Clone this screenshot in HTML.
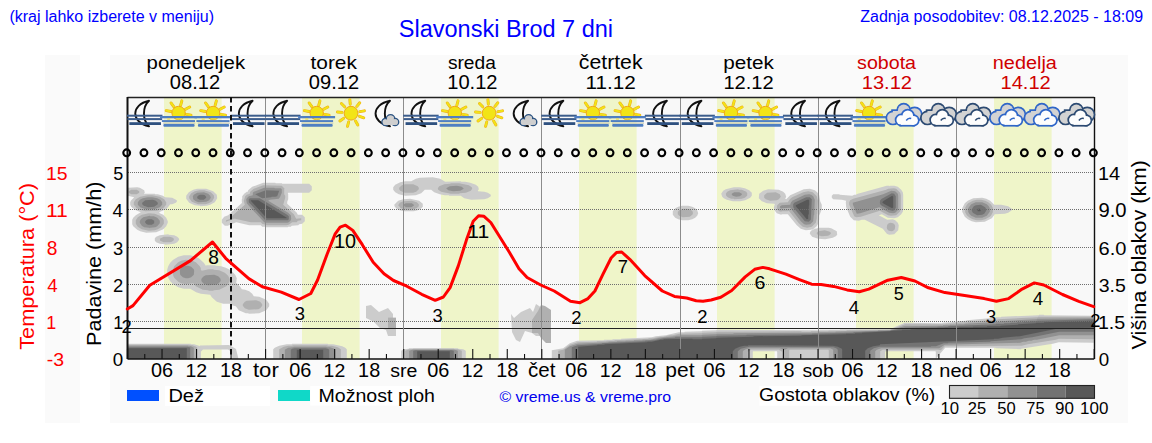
<!DOCTYPE html>
<html><head><meta charset="utf-8"><style>html,body{margin:0;padding:0;background:#fff;width:1152px;height:443px;overflow:hidden;position:relative}</style></head>
<body>
<svg width="1152" height="443" viewBox="0 0 1152 443" style="position:absolute;left:0;top:0;font-family:'Liberation Sans', sans-serif">
<rect x="0" y="0" width="1152" height="443" fill="#fff"/>
<rect x="45" y="55" width="35" height="368" fill="#fafafa"/>
<rect x="110" y="55" width="1018" height="368" fill="#fafafa"/>
<rect x="127.5" y="97" width="966.6999999999998" height="262" fill="#f8f8f8"/>
<rect x="164.00" y="97" width="57.6" height="262" fill="#eff5c9"/>
<rect x="302.00" y="97" width="57.6" height="262" fill="#eff5c9"/>
<rect x="441.00" y="97" width="57.6" height="262" fill="#eff5c9"/>
<rect x="579.00" y="97" width="57.6" height="262" fill="#eff5c9"/>
<rect x="717.00" y="97" width="57.6" height="262" fill="#eff5c9"/>
<rect x="856.00" y="97" width="57.6" height="262" fill="#eff5c9"/>
<rect x="994.00" y="97" width="57.6" height="262" fill="#eff5c9"/>
<path fill="#cccccc" d="M197,359L197,349L200,345.5L229,345L236,349L238.5,359L232.3,359L232,352L228,349.5L203,349.5L200.5,352L200.5,359Z"/>
<path fill="#cccccc" fill-rule="evenodd" d="M401.2,350.8L401.2,358.8L465.8,358.8L465.8,350.8L463.2,349.2L458.2,348.8L457.8,348.2L409.2,348.2L408.8,348.8L403.8,349.2ZM273.2,349.2L273.2,358.8L346.8,358.8L346.8,349.2L345.2,347.8L342.2,346.2L333.2,344.2L328.2,344.2L327.8,343.8L292.2,343.8L291.8,344.2L286.8,344.2L279.2,345.8L274.8,347.8ZM127.8,343.8L127.8,358.8L200.8,358.8L200.8,347.8L198.8,345.8L194.2,344.2L191.2,344.2L190.8,343.8ZM1093.8,315.8L1044.2,315.2L1043.8,314.8L1039.2,314.8L1038.8,315.2L1001.2,316.8L1000.8,317.2L995.8,317.2L995.2,317.8L966.8,320.2L966.2,320.8L957.2,321.2L956.8,321.8L952.2,321.8L951.8,322.2L942.8,322.8L942.2,323.2L904.8,322.8L889.8,329.2L840.2,329.2L839.8,329.8L820.2,329.8L819.8,330.2L716.8,329.8L716.2,330.2L702.2,330.8L701.8,331.2L684.8,331.8L684.2,332.2L678.8,332.2L665.8,335.2L655.8,336.2L651.8,337.2L621.2,338.8L620.8,339.2L612.8,339.2L612.2,339.8L604.2,339.8L603.8,340.2L577.2,340.8L569.8,343.2L563.2,348.2L551.8,350.2L551.8,358.8L752.8,358.8L752.8,351.8L753.2,351.2L776.8,351.2L777.2,351.8L777.2,358.8L885.2,358.8L885.2,351.8L885.8,351.2L935.2,351.2L935.8,351.8L935.8,358.8L945.2,347.8L995.2,347.8L995.8,348.2L1020.8,349.2L1021.2,348.8L1052.8,343.8L1058.8,342.2L1093.8,342.8ZM168.2,266.2L167.2,269.8L167.2,274.2L168.2,277.8L170.2,281.2L173.2,284.2L178.2,287.2L183.8,288.8L190.2,288.8L196.2,292.2L200.8,293.8L210.2,294.8L211.8,297.2L216.8,301.8L223.2,303.8L229.8,303.8L231.8,305.2L235.8,306.2L238.8,310.2L245.8,313.2L248.2,313.2L248.8,313.8L259.2,313.2L266.2,310.2L269.2,306.2L269.2,303.8L266.2,299.8L259.2,296.8L253.8,296.2L252.2,293.8L249.2,291.2L245.2,289.8L241.8,289.2L240.2,286.8L236.2,282.8L236.8,278.2L235.2,274.8L230.8,270.2L225.8,267.8L221.2,266.2L215.8,265.8L215.2,265.2L206.8,265.2L205.8,265.8L203.8,262.8L198.8,258.2L195.8,256.8L190.2,255.2L183.8,255.2L178.2,256.8L173.2,259.8L170.2,262.8ZM154.8,238.2L154.8,240.8L156.2,242.2L159.8,243.8L164.8,244.2L165.2,244.8L174.2,243.8L177.2,242.2L179.2,239.8L178.8,238.2L177.2,236.8L174.2,235.2L168.8,234.8L168.2,234.2L159.8,235.2L156.2,236.8ZM672.8,211.2L672.8,214.8L675.2,217.8L678.2,219.2L682.2,220.2L688.2,220.2L692.2,219.2L695.2,217.8L697.2,215.8L698.2,213.2L697.2,210.2L695.2,208.2L692.2,206.8L688.2,205.8L682.2,205.8L678.2,206.8L675.2,208.2ZM394.2,204.8L394.8,206.8L396.8,208.8L399.8,210.2L403.8,211.2L413.8,211.2L417.8,210.2L420.8,208.8L422.8,206.8L422.8,203.8L419.2,200.8L410.2,198.8L403.2,199.2L398.2,200.8ZM962.2,208.2L962.2,211.8L964.8,216.8L967.8,219.2L971.8,221.2L975.8,222.2L984.8,221.8L991.8,218.2L994.8,214.2L1004.8,213.8L1008.2,212.8L1011.8,210.2L1011.8,208.8L1008.2,206.2L1001.2,204.8L994.2,204.8L990.2,200.8L986.2,198.8L982.2,197.8L973.2,198.2L967.8,200.8L964.8,203.2ZM759.2,193.8L758.8,198.2L761.8,201.2L766.8,203.2L774.2,203.8L774.8,204.2L773.8,207.2L774.2,209.8L776.8,213.2L781.2,214.8L781.8,214.2L787.8,214.2L796.8,225.2L800.8,228.8L805.8,230.2L811.2,229.8L811.8,230.2L810.2,231.8L809.8,233.8L812.2,236.8L818.2,238.8L825.2,239.2L832.8,237.8L835.8,236.2L837.2,234.8L836.8,231.2L831.2,228.2L828.8,227.8L818.8,227.8L815.8,228.8L814.2,228.2L816.2,226.8L818.2,223.8L819.2,219.8L819.2,215.8L821.8,209.2L821.8,204.8L820.2,201.2L819.2,195.2L817.2,192.2L814.8,190.2L809.8,188.8L803.8,189.2L790.2,195.2L786.2,199.2L785.2,198.8L786.2,196.8L785.2,193.8L783.2,191.8L778.8,189.8L768.2,189.2L763.2,190.8ZM811.2,229.8L811.8,229.2L812.8,229.8L812.2,230.2ZM812.8,229.2L813.2,228.8L813.8,229.2L813.2,229.8ZM813.8,228.8L814.2,228.2L814.8,228.8L814.2,229.2ZM186.2,195.8L186.2,198.8L189.2,202.8L194.8,205.2L199.8,205.8L200.2,206.2L206.8,205.8L210.2,204.8L214.8,202.2L217.2,198.2L216.8,194.8L213.2,191.2L206.2,188.8L197.2,188.8L193.2,189.8L188.8,192.2ZM721.2,193.8L722.2,196.8L723.8,198.2L726.8,199.8L732.8,201.2L740.2,201.2L745.2,200.2L750.2,197.8L751.8,195.8L751.8,192.8L749.2,190.2L744.8,188.2L739.8,187.2L733.8,187.2L725.8,189.2L723.2,190.8ZM128.2,187.8L127.8,188.2L127.8,195.8L134.2,197.2L130.8,200.8L130.2,202.2L130.2,204.8L131.2,206.8L134.8,209.8L140.8,212.2L135.8,215.2L133.2,217.8L132.2,219.8L132.2,224.2L133.2,226.2L137.2,229.8L140.2,231.2L146.2,232.8L156.2,232.2L163.2,229.2L166.2,226.2L167.8,222.8L167.8,221.2L166.2,217.8L163.2,214.8L159.8,213.2L159.2,212.2L166.8,208.8L170.2,204.2L172.2,204.2L175.8,202.8L176.8,201.8L176.8,200.2L172.2,197.8L165.2,197.2L162.8,195.8L157.8,194.2L155.2,194.2L154.8,193.8L145.2,193.8L144.8,194.2L144.2,193.8L144.8,192.8L144.2,190.2L139.8,187.8L137.2,187.2ZM898.2,230.2L898.8,225.2L897.8,222.8L895.2,220.2L892.8,219.2L887.2,219.8L878.8,215.2L881.8,214.2L887.8,217.8L894.2,218.2L897.8,217.2L901.2,214.2L902.8,211.8L903.2,209.2L903.2,194.8L902.8,192.2L901.2,189.8L897.8,186.8L894.2,185.8L890.2,185.8L889.8,186.2L889.2,185.8L886.8,185.8L857.8,193.8L855.8,194.8L854.2,194.8L852.2,195.8L839.8,194.8L839.2,194.2L833.2,194.2L831.8,195.8L831.8,197.8L833.2,199.2L841.8,199.8L846.2,200.8L845.8,202.2L846.2,207.2L850.2,216.8L853.8,220.2L858.8,220.8L861.8,219.8L864.8,219.8L882.8,228.8L886.8,233.8L889.2,234.8L894.2,234.2ZM311.8,186.2L309.2,183.8L282.2,183.8L281.8,183.2L275.8,183.2L275.2,182.8L263.2,182.8L252.2,186.8L248.2,190.2L247.8,191.8L246.8,191.8L244.2,193.8L242.2,196.2L242.2,198.8L241.8,199.2L241.8,202.2L242.2,202.8L228.2,215.2L224.2,216.8L221.8,219.8L221.8,222.8L224.8,225.8L227.8,225.8L236.2,222.2L249.2,225.2L260.8,225.2L262.2,226.8L264.8,226.8L265.2,227.2L287.8,227.2L288.2,226.8L290.8,226.8L291.8,225.8L298.2,225.2L299.2,224.2L302.2,223.8L304.8,221.2L304.8,217.2L302.2,214.8L297.8,214.8L296.8,212.8L287.2,203.8L287.2,201.8L288.2,199.2L288.2,194.2L287.8,193.2L288.2,192.8L309.2,192.8L311.8,190.2ZM393.2,187.2L393.2,189.8L395.2,192.2L398.8,194.2L405.2,195.8L415.8,195.2L421.2,193.2L424.8,189.8L431.2,189.8L434.2,192.2L439.8,194.2L444.8,195.2L448.8,195.2L449.2,195.8L460.8,195.8L464.2,198.2L471.2,199.8L484.2,199.2L487.8,198.2L490.8,196.2L490.8,194.8L487.8,192.8L484.2,191.8L478.2,191.2L477.8,190.8L478.8,189.2L478.2,186.8L475.8,184.8L470.2,182.8L465.2,181.8L461.2,181.8L460.8,181.2L445.2,181.8L440.2,178.8L432.8,177.2L419.8,177.8L415.8,178.8L411.2,181.2L405.2,181.2L400.2,182.2L395.2,184.8Z"/>
<path fill="#b0b0b0" fill-rule="evenodd" d="M405.2,350.8L405.2,358.8L461.8,358.8L461.8,350.8L457.8,349.2L454.2,349.2L453.8,348.8L413.2,348.8L412.8,349.2L409.2,349.2ZM279.2,349.2L279.2,358.8L340.8,358.8L340.8,349.2L337.8,347.2L331.8,345.8L327.8,345.8L327.2,345.2L292.8,345.2L292.2,345.8L288.2,345.8L283.8,346.8ZM127.8,344.8L127.8,358.8L197.2,358.8L197.2,347.8L196.2,346.8L192.2,345.2L189.8,345.2L189.2,344.8ZM1093.8,316.8L1038.2,316.8L1037.8,317.2L997.8,319.2L997.2,319.8L968.8,321.8L968.2,322.2L957.2,322.8L956.8,323.2L945.8,323.8L945.2,324.2L905.2,324.2L889.8,329.8L846.8,330.2L846.2,330.8L828.8,330.8L828.2,331.2L811.2,331.2L810.8,331.8L801.8,331.8L801.2,331.2L716.8,331.8L716.2,332.2L702.2,332.8L701.8,333.2L679.2,333.8L672.8,335.2L669.8,335.2L663.2,336.8L660.2,336.8L652.8,338.2L648.8,338.2L648.2,338.8L614.8,340.2L614.2,340.8L606.8,340.8L606.2,341.2L597.2,341.2L596.8,341.8L577.8,342.2L569.8,344.8L563.2,349.8L558.2,350.8L558.2,358.8L747.8,358.8L747.8,351.8L751.2,349.8L778.8,349.8L782.2,351.8L782.2,358.8L789.2,358.8L789.2,350.2L789.8,349.8L828.2,349.8L828.8,350.2L828.8,358.8L880.2,358.8L880.2,351.2L882.8,349.8L938.2,349.8L940.8,350.2L944.8,346.2L1021.8,345.8L1027.8,344.2L1055.8,339.8L1058.8,338.8L1093.8,339.2ZM242.8,304.2L242.8,305.8L244.8,308.2L248.8,309.8L258.2,309.2L260.2,308.2L262.2,305.8L262.2,304.2L260.2,301.8L256.2,300.2L246.8,300.8L244.8,301.8ZM172.8,270.2L173.2,275.8L174.2,277.8L178.2,281.8L181.2,283.2L185.8,284.2L193.2,283.2L195.8,286.2L202.8,289.8L208.2,290.2L208.8,290.8L213.2,290.8L213.8,290.2L219.2,289.8L226.2,286.2L228.2,284.2L229.8,280.8L229.8,279.2L228.2,275.8L224.8,272.8L219.2,270.2L213.8,269.8L213.2,269.2L208.8,269.2L201.8,270.8L200.8,269.8L200.8,268.2L199.8,266.2L195.8,262.2L191.2,260.2L185.8,259.8L181.2,260.8L178.2,262.2L174.2,266.2ZM159.8,238.8L160.2,240.8L163.8,242.2L169.8,242.2L171.8,241.8L173.8,240.2L173.8,238.8L172.8,237.8L169.8,236.8L163.8,236.8ZM816.8,232.8L816.8,233.8L818.2,235.2L821.8,236.2L827.8,235.8L829.2,235.2L830.8,233.8L830.8,232.8L829.8,231.8L824.8,230.2L818.2,231.2ZM890.2,222.8L888.8,223.2L887.2,224.8L886.8,227.8L887.2,229.2L888.8,230.8L891.8,231.2L893.2,230.8L894.8,229.2L895.2,226.2L894.8,224.8L893.2,223.2ZM135.8,220.2L135.8,223.8L137.8,226.8L141.8,229.2L148.8,230.8L154.8,230.2L157.8,229.2L161.2,227.2L163.8,223.8L163.8,220.2L162.8,218.2L159.8,215.8L154.8,213.8L148.8,213.2L141.8,214.8L137.8,217.2ZM677.8,211.8L677.8,214.2L679.2,215.8L682.8,217.2L689.8,216.8L692.8,214.2L692.8,211.8L690.8,209.8L687.8,208.8L682.8,208.8L679.2,210.2ZM398.2,205.2L400.8,208.2L406.2,209.8L413.8,209.2L417.2,207.8L418.8,206.2L418.8,204.2L416.8,202.2L411.8,200.8L403.2,201.2L399.8,202.8ZM965.2,207.8L965.2,212.2L966.8,215.2L969.8,217.8L972.8,219.2L976.8,220.2L981.2,220.2L985.2,219.2L989.8,216.8L991.2,215.2L992.8,212.2L992.8,207.8L991.2,204.8L988.2,202.2L985.2,200.8L981.2,199.8L976.8,199.8L972.8,200.8L968.2,203.2L966.8,204.8ZM133.8,202.2L133.8,204.8L136.8,208.2L139.8,209.8L145.2,211.2L157.2,210.8L163.2,208.2L166.2,204.8L166.2,202.2L164.2,199.2L159.8,196.8L152.2,195.2L147.8,195.2L140.2,196.8L135.8,199.2ZM764.2,195.2L764.2,197.8L765.8,199.2L770.2,200.8L776.8,200.2L778.8,199.2L780.8,196.8L779.8,194.2L775.8,192.2L767.2,192.8ZM777.2,205.2L776.8,207.2L777.2,209.2L779.2,211.2L781.2,211.8L781.8,211.2L788.2,211.2L788.8,210.8L798.8,223.2L802.8,226.8L807.2,227.8L811.8,226.8L815.8,222.8L816.8,218.2L816.8,214.2L817.2,213.8L817.8,200.8L816.8,196.2L812.8,192.2L808.2,191.2L803.2,192.2L792.2,197.2L789.8,199.2L787.8,202.2L779.8,202.8ZM189.2,196.2L189.2,198.2L191.8,201.8L198.2,204.2L205.2,204.2L208.8,203.2L212.2,201.2L214.2,197.8L213.8,195.2L210.8,192.2L204.2,190.2L199.2,190.2L194.8,191.2L191.2,193.2ZM128.8,191.2L128.8,192.8L131.2,194.2L136.8,194.2L139.2,192.8L139.2,191.2L136.8,189.8L131.2,189.8ZM725.8,193.8L726.2,195.8L727.8,197.2L731.2,198.8L733.8,198.8L734.2,199.2L741.8,198.8L744.8,197.8L747.2,195.8L747.2,193.2L746.2,191.8L741.8,189.8L738.8,189.8L738.2,189.2L730.2,190.2L727.2,191.8ZM900.2,192.8L896.2,188.8L893.8,188.2L888.2,188.8L886.2,189.8L853.2,198.8L850.2,200.2L849.2,202.2L849.2,204.8L854.2,216.2L856.2,217.2L860.8,216.8L879.8,210.8L888.2,215.2L890.8,215.8L896.2,215.2L900.2,211.2L900.8,208.8L900.8,195.2ZM307.2,188.2L284.2,188.2L281.8,185.8L263.2,185.2L253.8,188.8L250.2,191.8L249.8,193.8L246.8,194.8L245.2,196.2L243.8,200.8L244.8,204.8L231.2,216.8L230.8,218.8L226.2,220.2L225.8,221.8L233.8,218.8L235.2,218.8L250.8,222.2L260.8,222.2L262.2,223.8L266.8,225.2L286.2,225.2L288.8,224.8L292.2,222.2L296.8,222.2L297.8,220.8L301.2,220.2L301.2,218.2L296.2,218.8L293.8,214.2L283.2,204.8L285.2,197.8L285.2,195.8L284.2,194.2L284.2,188.8L284.8,188.2ZM399.2,187.8L399.2,189.2L400.2,190.8L404.8,192.8L413.2,192.8L416.2,191.8L418.8,189.2L418.8,187.8L417.8,186.2L413.2,184.2L404.8,184.2L401.8,185.2ZM437.8,188.2L438.2,189.8L441.2,191.8L450.8,193.8L459.2,193.8L459.8,193.2L465.8,192.8L470.8,190.8L472.2,188.8L471.8,187.2L468.8,185.2L459.2,183.2L450.8,183.2L450.2,183.8L444.2,184.2L439.2,186.2Z"/>
<path fill="#919191" fill-rule="evenodd" d="M409.2,350.8L409.2,358.8L457.8,358.8L457.8,350.8L454.8,349.8L412.2,349.8ZM284.8,349.8L284.8,358.8L335.2,358.8L335.2,349.8L333.2,348.2L329.8,347.2L326.8,347.2L326.2,346.8L293.8,346.8L293.2,347.2L288.2,347.8ZM127.8,345.8L127.8,358.8L193.8,358.8L193.8,347.8L190.8,346.2L188.2,346.2L187.8,345.8ZM1093.8,318.2L1037.2,318.8L1036.8,319.2L1000.8,321.2L1000.2,321.8L964.8,323.8L964.2,324.2L957.8,324.2L957.2,324.8L950.2,324.8L949.8,325.2L943.2,325.2L942.8,325.8L904.2,326.2L889.8,330.2L878.2,330.2L877.8,330.8L835.8,331.8L835.2,332.2L819.8,332.2L819.2,332.8L733.8,333.2L733.2,333.8L716.8,333.8L716.2,334.2L702.2,334.8L701.8,335.2L680.2,335.2L679.8,335.8L675.8,335.8L675.2,336.2L660.2,337.8L650.2,339.8L642.8,339.8L642.2,340.2L634.2,340.2L633.8,340.8L625.8,340.8L625.2,341.2L617.2,341.2L616.8,341.8L608.8,341.8L608.2,342.2L577.8,343.8L569.8,346.2L564.8,349.8L564.8,358.8L742.8,358.8L742.8,351.8L743.2,350.8L745.8,349.2L750.2,348.2L779.8,348.2L784.8,349.8L787.8,348.2L830.2,348.2L833.2,349.8L833.2,358.8L875.2,358.8L875.2,351.2L876.8,349.8L881.2,348.2L939.2,348.2L944.8,344.8L1020.2,342.8L1023.2,341.8L1025.8,341.8L1028.8,340.8L1031.2,340.8L1034.2,339.8L1036.8,339.8L1059.2,335.2L1093.8,335.2ZM201.2,279.8L201.8,281.8L203.8,283.8L207.8,285.2L216.2,284.8L218.2,283.8L220.2,281.8L220.8,280.2L220.2,278.2L218.2,276.2L214.2,274.8L205.8,275.2L203.8,276.2L201.8,278.2ZM182.8,266.8L180.2,269.2L179.8,270.8L180.2,274.8L182.8,277.2L185.8,278.2L188.2,278.2L191.2,277.2L193.8,274.8L194.2,270.8L193.8,269.2L191.2,266.8L188.2,265.8L185.8,265.8ZM139.8,221.2L139.8,222.8L141.8,225.8L144.2,227.2L149.2,227.8L149.8,228.2L150.2,227.8L155.2,227.2L157.2,226.2L159.8,223.2L159.8,220.8L157.2,217.8L153.8,216.2L150.2,216.2L149.8,215.8L143.2,217.2L140.8,219.2ZM403.2,205.2L405.8,207.2L411.2,207.2L413.8,205.8L413.8,204.8L411.8,203.2L405.8,203.2L403.8,204.2ZM968.2,208.2L968.2,211.8L969.2,213.8L971.2,215.8L975.8,217.8L982.2,217.8L986.8,215.8L989.8,211.8L989.8,208.2L988.8,206.2L986.8,204.2L982.2,202.2L975.8,202.2L971.2,204.2ZM137.8,202.2L137.8,204.8L140.2,207.2L145.8,209.2L154.2,209.2L159.8,207.2L162.2,204.8L162.2,202.2L160.2,199.8L157.2,198.2L152.2,197.2L147.8,197.2L142.8,198.2L139.8,199.8ZM780.2,206.2L779.8,207.2L781.2,208.8L781.8,208.2L790.2,207.8L800.8,221.2L804.2,224.2L806.2,224.8L810.2,224.2L813.2,221.2L813.8,215.2L814.2,214.8L814.8,199.8L813.2,196.2L811.2,194.8L809.2,194.2L804.8,194.8L792.2,200.8L790.8,202.8L790.2,204.8L781.8,205.2ZM731.8,193.8L731.8,194.8L732.8,195.8L736.2,196.8L739.8,196.2L741.8,194.8L741.8,193.8L739.2,192.2L734.2,192.2ZM192.8,196.2L193.2,199.2L195.8,201.2L198.8,202.2L206.2,201.8L209.2,200.2L210.8,197.8L210.2,195.8L208.2,193.8L203.8,192.2L197.2,192.8L193.8,194.8ZM897.8,193.8L895.2,191.2L891.2,190.8L883.2,194.2L852.8,202.8L852.8,204.2L856.8,213.8L860.2,213.2L879.2,207.2L889.2,212.8L893.2,213.2L895.2,212.8L897.8,210.2L898.2,208.2L898.2,195.8ZM238.2,215.2L250.2,207.2L264.2,222.2L265.8,222.8L287.2,222.8L288.8,222.2L290.8,220.2L291.2,218.8L290.8,215.2L288.2,212.8L268.2,200.8L269.8,199.8L278.8,198.8L280.2,196.8L281.8,192.8L281.8,189.2L280.8,188.2L274.8,188.2L274.2,187.8L264.2,187.8L253.8,191.8L252.8,192.8L252.8,195.2L248.8,196.2L246.8,198.2L246.2,199.8L246.8,203.2L250.2,207.2ZM446.2,188.2L448.2,190.2L453.2,191.2L460.2,190.8L463.8,188.8L461.8,186.8L456.8,185.8L449.8,186.2Z"/>
<path fill="#737373" fill-rule="evenodd" d="M413.2,350.8L413.2,358.8L453.8,358.8L453.8,350.8L451.2,350.2L415.8,350.2ZM290.8,349.8L290.8,358.8L329.2,358.8L329.2,349.8L327.8,348.8L325.2,348.2L294.8,348.2L292.2,348.8ZM127.8,347.2L127.8,358.8L190.2,358.8L190.2,347.8L189.2,347.2ZM1093.8,319.2L1036.8,320.8L1036.2,321.2L1030.2,321.2L1029.8,321.8L1023.8,321.8L1023.2,322.2L1017.2,322.2L1016.8,322.8L1010.8,322.8L1010.2,323.2L1004.2,323.2L1003.8,323.8L996.2,323.8L995.8,324.2L948.2,326.2L947.8,326.8L937.8,326.8L937.2,327.2L905.2,327.8L890.2,330.8L853.8,332.2L853.2,332.8L812.2,333.8L811.8,334.2L746.8,334.8L746.2,335.2L716.8,335.8L716.2,336.2L702.2,336.8L701.8,337.2L675.2,337.2L674.8,337.8L663.8,338.2L654.2,340.2L645.2,340.8L644.8,341.2L602.2,343.2L601.8,343.8L577.8,345.2L571.8,347.2L571.8,358.8L737.8,358.8L737.8,351.2L740.8,348.8L749.2,346.8L833.2,347.2L836.2,348.2L837.8,349.8L837.8,358.8L870.2,358.8L870.2,350.8L873.8,348.2L879.8,346.8L930.8,346.8L931.2,346.2L935.8,346.2L943.8,343.2L947.8,343.2L948.2,342.8L990.2,341.8L990.8,341.2L1021.2,339.2L1024.2,338.2L1032.2,337.2L1059.2,331.8L1093.8,331.8ZM145.2,221.2L145.2,222.8L146.8,224.2L148.2,224.8L151.8,224.8L154.2,223.2L154.2,220.8L151.8,219.2L148.2,219.2L146.8,219.8ZM971.8,209.2L971.8,210.8L972.8,212.8L977.2,215.2L982.2,214.8L984.2,213.8L986.2,210.8L986.2,209.2L985.2,207.2L980.8,204.8L975.8,205.2L973.8,206.2ZM142.2,202.8L142.2,204.2L143.8,205.8L148.2,207.2L154.2,206.8L157.8,204.2L157.8,202.8L155.8,200.8L152.8,199.8L145.2,200.2ZM248.8,199.2L248.8,202.2L265.2,220.2L287.8,220.2L288.8,219.2L288.8,216.2L287.2,214.8L259.8,198.2L249.8,198.2ZM806.2,197.2L794.2,202.8L793.2,204.2L793.2,207.2L804.8,221.2L808.8,221.8L810.8,219.8L811.8,199.2L809.8,197.2ZM197.2,196.8L197.2,198.2L199.8,199.8L203.8,199.8L206.2,197.8L206.2,196.8L204.8,195.2L203.2,194.8L200.2,194.8L198.8,195.2ZM891.8,193.2L881.8,198.8L880.2,200.2L879.8,202.8L880.2,204.2L881.8,205.8L890.2,210.2L892.8,210.8L894.2,210.2L895.8,207.8L895.8,196.2L894.2,193.8ZM255.2,194.2L262.2,198.2L271.2,197.2L271.8,196.8L275.2,196.8L277.2,196.2L279.2,190.8L265.8,190.2Z"/>
<path fill="#585858" fill-rule="evenodd" d="M417.2,351.2L417.2,358.8L449.8,358.8L449.8,351.2ZM296.8,349.8L296.8,358.8L323.2,358.8L323.2,349.8ZM127.8,348.2L127.8,358.8L186.8,358.8L186.8,348.2ZM1093.8,320.8L1044.2,322.2L1043.8,322.8L1036.2,322.8L1035.8,323.2L1018.2,324.2L1017.8,324.8L1000.8,325.8L1000.2,326.2L987.2,326.2L986.8,326.8L973.2,326.8L972.8,327.2L958.8,327.2L958.2,327.8L944.8,327.8L944.2,328.2L910.8,329.2L910.2,329.8L902.2,329.8L901.8,330.2L890.8,330.8L890.2,331.2L862.2,332.8L861.8,333.2L855.2,333.2L854.8,333.8L846.2,333.8L845.8,334.2L801.8,335.2L801.2,335.8L753.8,336.2L753.2,336.8L716.8,337.8L716.2,338.2L702.2,338.8L701.8,339.2L692.8,339.2L692.2,338.8L663.8,339.2L663.2,339.8L660.8,339.8L651.8,341.8L647.8,341.8L647.2,342.2L604.8,344.2L604.2,344.8L597.8,344.8L597.2,345.2L578.2,346.8L578.2,358.8L732.8,358.8L732.8,351.2L735.2,348.8L739.8,346.8L744.2,345.8L747.8,345.8L748.2,345.2L832.8,345.8L837.8,346.8L841.8,348.8L842.2,349.8L842.2,358.8L865.2,358.8L865.2,350.8L867.8,348.2L873.2,346.2L879.8,345.2L880.2,344.2L993.8,339.2L994.2,338.8L998.2,338.8L1002.8,337.8L1019.8,336.2L1059.2,328.2L1093.8,327.8ZM977.2,209.2L977.8,211.2L980.2,211.2L980.8,210.8L980.2,208.8L977.8,208.8ZM250.8,200.8L266.8,218.2L286.2,218.2L286.8,217.8L258.2,200.2L251.2,200.2ZM808.8,199.8L807.2,199.8L795.8,205.2L795.8,206.2L806.8,219.2L808.2,218.8L808.2,214.8L808.8,214.2L808.8,205.8L809.2,205.2L809.2,200.2ZM892.2,195.8L883.8,200.8L882.2,202.2L883.8,203.8L892.2,208.2L893.2,207.2L893.2,196.8Z"/>
<path fill="#cccccc" d="M366,306L371,305L379,312L388,308L393,314L393,318L396,318L396,336L388,336L386,330L380,328L374,322L366,318Z"/>
<path fill="#b0b0b0" d="M388,317.6L396,317.6L396,328L388,328Z"/>
<path fill="#cccccc" d="M511,314L514,318L521,312L530,308L533,312L536,304L542,308L551,310L551,342L547,340L543,336L536,336L532,333L525,331L520,342L516,340L512,332Z"/>
<path fill="#b0b0b0" d="M532,320L538,311L541,305L545,306L551,310L551,343L546,343L541,338L538,333L532,333Z"/>
<line x1="128" y1="172.5" x2="1094" y2="172.5" stroke="#6e6e6e" stroke-width="1" stroke-dasharray="1,1"/>
<line x1="128" y1="209.5" x2="1094" y2="209.5" stroke="#6e6e6e" stroke-width="1" stroke-dasharray="1,1"/>
<line x1="128" y1="247.5" x2="1094" y2="247.5" stroke="#6e6e6e" stroke-width="1" stroke-dasharray="1,1"/>
<line x1="128" y1="284.5" x2="1094" y2="284.5" stroke="#6e6e6e" stroke-width="1" stroke-dasharray="1,1"/>
<line x1="128" y1="321.5" x2="1094" y2="321.5" stroke="#6e6e6e" stroke-width="1" stroke-dasharray="1,1"/>
<line x1="127.5" y1="328.5" x2="1094.1999999999998" y2="328.5" stroke="#222" stroke-width="1.2"/>
<line x1="265.5" y1="97" x2="265.5" y2="359" stroke="#8c8c8c" stroke-width="1"/>
<line x1="403.5" y1="97" x2="403.5" y2="359" stroke="#8c8c8c" stroke-width="1"/>
<line x1="541.5" y1="97" x2="541.5" y2="359" stroke="#8c8c8c" stroke-width="1"/>
<line x1="680.5" y1="97" x2="680.5" y2="359" stroke="#8c8c8c" stroke-width="1"/>
<line x1="818.5" y1="97" x2="818.5" y2="359" stroke="#8c8c8c" stroke-width="1"/>
<line x1="956.5" y1="97" x2="956.5" y2="359" stroke="#8c8c8c" stroke-width="1"/>
<line x1="127.5" y1="97.5" x2="1094.1999999999998" y2="97.5" stroke="#222" stroke-width="1.4"/>
<line x1="127.5" y1="97" x2="127.5" y2="359" stroke="#111" stroke-width="2"/>
<line x1="1094.5" y1="97" x2="1094.5" y2="359" stroke="#111" stroke-width="1.4"/>
<line x1="127.5" y1="359" x2="1094.1999999999998" y2="359" stroke="#111" stroke-width="1.6"/>
<line x1="127.50" y1="359" x2="127.50" y2="349" stroke="#111" stroke-width="1.1"/>
<line x1="144.76" y1="359" x2="144.76" y2="354" stroke="#111" stroke-width="1.1"/>
<line x1="162.03" y1="359" x2="162.03" y2="349" stroke="#111" stroke-width="1.1"/>
<line x1="179.29" y1="359" x2="179.29" y2="354" stroke="#111" stroke-width="1.1"/>
<line x1="196.55" y1="359" x2="196.55" y2="349" stroke="#111" stroke-width="1.1"/>
<line x1="213.81" y1="359" x2="213.81" y2="354" stroke="#111" stroke-width="1.1"/>
<line x1="231.07" y1="359" x2="231.07" y2="349" stroke="#111" stroke-width="1.1"/>
<line x1="248.34" y1="359" x2="248.34" y2="354" stroke="#111" stroke-width="1.1"/>
<line x1="265.60" y1="359" x2="265.60" y2="349" stroke="#111" stroke-width="1.1"/>
<line x1="282.86" y1="359" x2="282.86" y2="354" stroke="#111" stroke-width="1.1"/>
<line x1="300.12" y1="359" x2="300.12" y2="349" stroke="#111" stroke-width="1.1"/>
<line x1="317.39" y1="359" x2="317.39" y2="354" stroke="#111" stroke-width="1.1"/>
<line x1="334.65" y1="359" x2="334.65" y2="349" stroke="#111" stroke-width="1.1"/>
<line x1="351.91" y1="359" x2="351.91" y2="354" stroke="#111" stroke-width="1.1"/>
<line x1="369.17" y1="359" x2="369.17" y2="349" stroke="#111" stroke-width="1.1"/>
<line x1="386.44" y1="359" x2="386.44" y2="354" stroke="#111" stroke-width="1.1"/>
<line x1="403.70" y1="359" x2="403.70" y2="349" stroke="#111" stroke-width="1.1"/>
<line x1="420.96" y1="359" x2="420.96" y2="354" stroke="#111" stroke-width="1.1"/>
<line x1="438.22" y1="359" x2="438.22" y2="349" stroke="#111" stroke-width="1.1"/>
<line x1="455.49" y1="359" x2="455.49" y2="354" stroke="#111" stroke-width="1.1"/>
<line x1="472.75" y1="359" x2="472.75" y2="349" stroke="#111" stroke-width="1.1"/>
<line x1="490.01" y1="359" x2="490.01" y2="354" stroke="#111" stroke-width="1.1"/>
<line x1="507.27" y1="359" x2="507.27" y2="349" stroke="#111" stroke-width="1.1"/>
<line x1="524.54" y1="359" x2="524.54" y2="354" stroke="#111" stroke-width="1.1"/>
<line x1="541.80" y1="359" x2="541.80" y2="349" stroke="#111" stroke-width="1.1"/>
<line x1="559.06" y1="359" x2="559.06" y2="354" stroke="#111" stroke-width="1.1"/>
<line x1="576.33" y1="359" x2="576.33" y2="349" stroke="#111" stroke-width="1.1"/>
<line x1="593.59" y1="359" x2="593.59" y2="354" stroke="#111" stroke-width="1.1"/>
<line x1="610.85" y1="359" x2="610.85" y2="349" stroke="#111" stroke-width="1.1"/>
<line x1="628.11" y1="359" x2="628.11" y2="354" stroke="#111" stroke-width="1.1"/>
<line x1="645.38" y1="359" x2="645.38" y2="349" stroke="#111" stroke-width="1.1"/>
<line x1="662.64" y1="359" x2="662.64" y2="354" stroke="#111" stroke-width="1.1"/>
<line x1="679.90" y1="359" x2="679.90" y2="349" stroke="#111" stroke-width="1.1"/>
<line x1="697.16" y1="359" x2="697.16" y2="354" stroke="#111" stroke-width="1.1"/>
<line x1="714.42" y1="359" x2="714.42" y2="349" stroke="#111" stroke-width="1.1"/>
<line x1="731.69" y1="359" x2="731.69" y2="354" stroke="#111" stroke-width="1.1"/>
<line x1="748.95" y1="359" x2="748.95" y2="349" stroke="#111" stroke-width="1.1"/>
<line x1="766.21" y1="359" x2="766.21" y2="354" stroke="#111" stroke-width="1.1"/>
<line x1="783.48" y1="359" x2="783.48" y2="349" stroke="#111" stroke-width="1.1"/>
<line x1="800.74" y1="359" x2="800.74" y2="354" stroke="#111" stroke-width="1.1"/>
<line x1="818.00" y1="359" x2="818.00" y2="349" stroke="#111" stroke-width="1.1"/>
<line x1="835.26" y1="359" x2="835.26" y2="354" stroke="#111" stroke-width="1.1"/>
<line x1="852.52" y1="359" x2="852.52" y2="349" stroke="#111" stroke-width="1.1"/>
<line x1="869.79" y1="359" x2="869.79" y2="354" stroke="#111" stroke-width="1.1"/>
<line x1="887.05" y1="359" x2="887.05" y2="349" stroke="#111" stroke-width="1.1"/>
<line x1="904.31" y1="359" x2="904.31" y2="354" stroke="#111" stroke-width="1.1"/>
<line x1="921.57" y1="359" x2="921.57" y2="349" stroke="#111" stroke-width="1.1"/>
<line x1="938.84" y1="359" x2="938.84" y2="354" stroke="#111" stroke-width="1.1"/>
<line x1="956.10" y1="359" x2="956.10" y2="349" stroke="#111" stroke-width="1.1"/>
<line x1="973.36" y1="359" x2="973.36" y2="354" stroke="#111" stroke-width="1.1"/>
<line x1="990.62" y1="359" x2="990.62" y2="349" stroke="#111" stroke-width="1.1"/>
<line x1="1007.89" y1="359" x2="1007.89" y2="354" stroke="#111" stroke-width="1.1"/>
<line x1="1025.15" y1="359" x2="1025.15" y2="349" stroke="#111" stroke-width="1.1"/>
<line x1="1042.41" y1="359" x2="1042.41" y2="354" stroke="#111" stroke-width="1.1"/>
<line x1="1059.67" y1="359" x2="1059.67" y2="349" stroke="#111" stroke-width="1.1"/>
<line x1="1076.94" y1="359" x2="1076.94" y2="354" stroke="#111" stroke-width="1.1"/>
<line x1="1094.20" y1="359" x2="1094.20" y2="349" stroke="#111" stroke-width="1.1"/>
<circle cx="126.70" cy="152.8" r="3.4" fill="none" stroke="#000" stroke-width="2.1"/>
<circle cx="143.96" cy="152.8" r="3.4" fill="none" stroke="#000" stroke-width="2.1"/>
<circle cx="161.22" cy="152.8" r="3.4" fill="none" stroke="#000" stroke-width="2.1"/>
<circle cx="178.49" cy="152.8" r="3.4" fill="none" stroke="#000" stroke-width="2.1"/>
<circle cx="195.75" cy="152.8" r="3.4" fill="none" stroke="#000" stroke-width="2.1"/>
<circle cx="213.01" cy="152.8" r="3.4" fill="none" stroke="#000" stroke-width="2.1"/>
<circle cx="230.27" cy="152.8" r="3.4" fill="none" stroke="#000" stroke-width="2.1"/>
<circle cx="247.54" cy="152.8" r="3.4" fill="none" stroke="#000" stroke-width="2.1"/>
<circle cx="264.80" cy="152.8" r="3.4" fill="none" stroke="#000" stroke-width="2.1"/>
<circle cx="282.06" cy="152.8" r="3.4" fill="none" stroke="#000" stroke-width="2.1"/>
<circle cx="299.32" cy="152.8" r="3.4" fill="none" stroke="#000" stroke-width="2.1"/>
<circle cx="316.59" cy="152.8" r="3.4" fill="none" stroke="#000" stroke-width="2.1"/>
<circle cx="333.85" cy="152.8" r="3.4" fill="none" stroke="#000" stroke-width="2.1"/>
<circle cx="351.11" cy="152.8" r="3.4" fill="none" stroke="#000" stroke-width="2.1"/>
<circle cx="368.37" cy="152.8" r="3.4" fill="none" stroke="#000" stroke-width="2.1"/>
<circle cx="385.64" cy="152.8" r="3.4" fill="none" stroke="#000" stroke-width="2.1"/>
<circle cx="402.90" cy="152.8" r="3.4" fill="none" stroke="#000" stroke-width="2.1"/>
<circle cx="420.16" cy="152.8" r="3.4" fill="none" stroke="#000" stroke-width="2.1"/>
<circle cx="437.42" cy="152.8" r="3.4" fill="none" stroke="#000" stroke-width="2.1"/>
<circle cx="454.69" cy="152.8" r="3.4" fill="none" stroke="#000" stroke-width="2.1"/>
<circle cx="471.95" cy="152.8" r="3.4" fill="none" stroke="#000" stroke-width="2.1"/>
<circle cx="489.21" cy="152.8" r="3.4" fill="none" stroke="#000" stroke-width="2.1"/>
<circle cx="506.47" cy="152.8" r="3.4" fill="none" stroke="#000" stroke-width="2.1"/>
<circle cx="523.74" cy="152.8" r="3.4" fill="none" stroke="#000" stroke-width="2.1"/>
<circle cx="541.00" cy="152.8" r="3.4" fill="none" stroke="#000" stroke-width="2.1"/>
<circle cx="558.26" cy="152.8" r="3.4" fill="none" stroke="#000" stroke-width="2.1"/>
<circle cx="575.53" cy="152.8" r="3.4" fill="none" stroke="#000" stroke-width="2.1"/>
<circle cx="592.79" cy="152.8" r="3.4" fill="none" stroke="#000" stroke-width="2.1"/>
<circle cx="610.05" cy="152.8" r="3.4" fill="none" stroke="#000" stroke-width="2.1"/>
<circle cx="627.31" cy="152.8" r="3.4" fill="none" stroke="#000" stroke-width="2.1"/>
<circle cx="644.58" cy="152.8" r="3.4" fill="none" stroke="#000" stroke-width="2.1"/>
<circle cx="661.84" cy="152.8" r="3.4" fill="none" stroke="#000" stroke-width="2.1"/>
<circle cx="679.10" cy="152.8" r="3.4" fill="none" stroke="#000" stroke-width="2.1"/>
<circle cx="696.36" cy="152.8" r="3.4" fill="none" stroke="#000" stroke-width="2.1"/>
<circle cx="713.62" cy="152.8" r="3.4" fill="none" stroke="#000" stroke-width="2.1"/>
<circle cx="730.89" cy="152.8" r="3.4" fill="none" stroke="#000" stroke-width="2.1"/>
<circle cx="748.15" cy="152.8" r="3.4" fill="none" stroke="#000" stroke-width="2.1"/>
<circle cx="765.41" cy="152.8" r="3.4" fill="none" stroke="#000" stroke-width="2.1"/>
<circle cx="782.68" cy="152.8" r="3.4" fill="none" stroke="#000" stroke-width="2.1"/>
<circle cx="799.94" cy="152.8" r="3.4" fill="none" stroke="#000" stroke-width="2.1"/>
<circle cx="817.20" cy="152.8" r="3.4" fill="none" stroke="#000" stroke-width="2.1"/>
<circle cx="834.46" cy="152.8" r="3.4" fill="none" stroke="#000" stroke-width="2.1"/>
<circle cx="851.73" cy="152.8" r="3.4" fill="none" stroke="#000" stroke-width="2.1"/>
<circle cx="868.99" cy="152.8" r="3.4" fill="none" stroke="#000" stroke-width="2.1"/>
<circle cx="886.25" cy="152.8" r="3.4" fill="none" stroke="#000" stroke-width="2.1"/>
<circle cx="903.51" cy="152.8" r="3.4" fill="none" stroke="#000" stroke-width="2.1"/>
<circle cx="920.77" cy="152.8" r="3.4" fill="none" stroke="#000" stroke-width="2.1"/>
<circle cx="938.04" cy="152.8" r="3.4" fill="none" stroke="#000" stroke-width="2.1"/>
<circle cx="955.30" cy="152.8" r="3.4" fill="none" stroke="#000" stroke-width="2.1"/>
<circle cx="972.56" cy="152.8" r="3.4" fill="none" stroke="#000" stroke-width="2.1"/>
<circle cx="989.83" cy="152.8" r="3.4" fill="none" stroke="#000" stroke-width="2.1"/>
<circle cx="1007.09" cy="152.8" r="3.4" fill="none" stroke="#000" stroke-width="2.1"/>
<circle cx="1024.35" cy="152.8" r="3.4" fill="none" stroke="#000" stroke-width="2.1"/>
<circle cx="1041.61" cy="152.8" r="3.4" fill="none" stroke="#000" stroke-width="2.1"/>
<circle cx="1058.88" cy="152.8" r="3.4" fill="none" stroke="#000" stroke-width="2.1"/>
<circle cx="1076.14" cy="152.8" r="3.4" fill="none" stroke="#000" stroke-width="2.1"/>
<circle cx="1093.40" cy="152.8" r="3.4" fill="none" stroke="#000" stroke-width="2.1"/>
<path d="M149.06,100.8 C130.66,104.80 130.66,122.40 149.06,126.4 C142.26,120.40 142.26,106.80 149.06,100.8Z" fill="#fbfbfb"/>
<path d="M149.06,100.8 C130.66,104.80 130.66,122.40 149.06,126.4 C142.26,120.40 142.26,106.80 149.06,100.8Z" fill="none" stroke="#111" stroke-width="1.9" stroke-linejoin="round"/>
<rect x="126.96" y="114.7" width="35.5" height="2" fill="#3c5d8c"/>
<rect x="127.46" y="118.1" width="34.7" height="2" fill="#3c5d8c"/>
<rect x="129.36" y="122.2" width="31.6" height="2.8" fill="#2f5180"/>
<line x1="170.93" y1="111.51" x2="166.22" y2="110.60" stroke="#f0a818" stroke-width="2.9" stroke-linecap="round"/>
<line x1="173.89" y1="106.77" x2="171.00" y2="102.94" stroke="#f0a818" stroke-width="2.9" stroke-linecap="round"/>
<line x1="180.61" y1="105.47" x2="181.85" y2="100.83" stroke="#f0a818" stroke-width="2.9" stroke-linecap="round"/>
<line x1="185.47" y1="109.34" x2="189.71" y2="107.08" stroke="#f0a818" stroke-width="2.9" stroke-linecap="round"/>
<line x1="186.27" y1="114.35" x2="191.00" y2="115.19" stroke="#f0a818" stroke-width="2.9" stroke-linecap="round"/>
<line x1="170.93" y1="111.51" x2="166.22" y2="110.60" stroke="#f2e416" stroke-width="2.0" stroke-linecap="round"/>
<line x1="173.89" y1="106.77" x2="171.00" y2="102.94" stroke="#f2e416" stroke-width="2.0" stroke-linecap="round"/>
<line x1="180.61" y1="105.47" x2="181.85" y2="100.83" stroke="#f2e416" stroke-width="2.0" stroke-linecap="round"/>
<line x1="185.47" y1="109.34" x2="189.71" y2="107.08" stroke="#f2e416" stroke-width="2.0" stroke-linecap="round"/>
<line x1="186.27" y1="114.35" x2="191.00" y2="115.19" stroke="#f2e416" stroke-width="2.0" stroke-linecap="round"/>
<circle cx="178.59" cy="113" r="6.7" fill="#f2e416" stroke="#f0a818" stroke-width="1"/>
<rect x="159.99" y="116" width="37" height="2.3" fill="#4f7fc2"/>
<rect x="167.19" y="118.4" width="3" height="1.2" fill="#e8d850"/>
<rect x="176.19" y="118.4" width="6" height="1.2" fill="#e8d850"/>
<rect x="161.89" y="120.1" width="33.1" height="1.9" fill="#4f7fc2"/>
<rect x="163.19" y="122.4" width="32" height="1.4" fill="#c8ccb8"/>
<rect x="163.39" y="124" width="31.2" height="2.8" rx="1" fill="#4f7fc2"/>
<line x1="205.46" y1="111.51" x2="200.74" y2="110.60" stroke="#f0a818" stroke-width="2.9" stroke-linecap="round"/>
<line x1="208.42" y1="106.77" x2="205.53" y2="102.94" stroke="#f0a818" stroke-width="2.9" stroke-linecap="round"/>
<line x1="215.13" y1="105.47" x2="216.37" y2="100.83" stroke="#f0a818" stroke-width="2.9" stroke-linecap="round"/>
<line x1="220.00" y1="109.34" x2="224.24" y2="107.08" stroke="#f0a818" stroke-width="2.9" stroke-linecap="round"/>
<line x1="220.79" y1="114.35" x2="225.52" y2="115.19" stroke="#f0a818" stroke-width="2.9" stroke-linecap="round"/>
<line x1="205.46" y1="111.51" x2="200.74" y2="110.60" stroke="#f2e416" stroke-width="2.0" stroke-linecap="round"/>
<line x1="208.42" y1="106.77" x2="205.53" y2="102.94" stroke="#f2e416" stroke-width="2.0" stroke-linecap="round"/>
<line x1="215.13" y1="105.47" x2="216.37" y2="100.83" stroke="#f2e416" stroke-width="2.0" stroke-linecap="round"/>
<line x1="220.00" y1="109.34" x2="224.24" y2="107.08" stroke="#f2e416" stroke-width="2.0" stroke-linecap="round"/>
<line x1="220.79" y1="114.35" x2="225.52" y2="115.19" stroke="#f2e416" stroke-width="2.0" stroke-linecap="round"/>
<circle cx="213.11" cy="113" r="6.7" fill="#f2e416" stroke="#f0a818" stroke-width="1"/>
<rect x="194.51" y="116" width="37" height="2.3" fill="#4f7fc2"/>
<rect x="201.71" y="118.4" width="3" height="1.2" fill="#e8d850"/>
<rect x="210.71" y="118.4" width="6" height="1.2" fill="#e8d850"/>
<rect x="196.41" y="120.1" width="33.1" height="1.9" fill="#4f7fc2"/>
<rect x="197.71" y="122.4" width="32" height="1.4" fill="#c8ccb8"/>
<rect x="197.91" y="124" width="31.2" height="2.8" rx="1" fill="#4f7fc2"/>
<path d="M252.64,100.8 C234.24,104.80 234.24,122.40 252.64,126.4 C245.84,120.40 245.84,106.80 252.64,100.8Z" fill="#fbfbfb"/>
<path d="M252.64,100.8 C234.24,104.80 234.24,122.40 252.64,126.4 C245.84,120.40 245.84,106.80 252.64,100.8Z" fill="none" stroke="#111" stroke-width="1.9" stroke-linejoin="round"/>
<rect x="230.54" y="114.7" width="35.5" height="2" fill="#3c5d8c"/>
<rect x="231.04" y="118.1" width="34.7" height="2" fill="#3c5d8c"/>
<rect x="232.94" y="122.2" width="31.6" height="2.8" fill="#2f5180"/>
<path d="M287.16,100.8 C268.76,104.80 268.76,122.40 287.16,126.4 C280.36,120.40 280.36,106.80 287.16,100.8Z" fill="#fbfbfb"/>
<path d="M287.16,100.8 C268.76,104.80 268.76,122.40 287.16,126.4 C280.36,120.40 280.36,106.80 287.16,100.8Z" fill="none" stroke="#111" stroke-width="1.9" stroke-linejoin="round"/>
<rect x="265.06" y="114.7" width="35.5" height="2" fill="#3c5d8c"/>
<rect x="265.56" y="118.1" width="34.7" height="2" fill="#3c5d8c"/>
<rect x="267.46" y="122.2" width="31.6" height="2.8" fill="#2f5180"/>
<line x1="309.03" y1="111.51" x2="304.32" y2="110.60" stroke="#f0a818" stroke-width="2.9" stroke-linecap="round"/>
<line x1="311.99" y1="106.77" x2="309.10" y2="102.94" stroke="#f0a818" stroke-width="2.9" stroke-linecap="round"/>
<line x1="318.71" y1="105.47" x2="319.95" y2="100.83" stroke="#f0a818" stroke-width="2.9" stroke-linecap="round"/>
<line x1="323.57" y1="109.34" x2="327.81" y2="107.08" stroke="#f0a818" stroke-width="2.9" stroke-linecap="round"/>
<line x1="324.37" y1="114.35" x2="329.10" y2="115.19" stroke="#f0a818" stroke-width="2.9" stroke-linecap="round"/>
<line x1="309.03" y1="111.51" x2="304.32" y2="110.60" stroke="#f2e416" stroke-width="2.0" stroke-linecap="round"/>
<line x1="311.99" y1="106.77" x2="309.10" y2="102.94" stroke="#f2e416" stroke-width="2.0" stroke-linecap="round"/>
<line x1="318.71" y1="105.47" x2="319.95" y2="100.83" stroke="#f2e416" stroke-width="2.0" stroke-linecap="round"/>
<line x1="323.57" y1="109.34" x2="327.81" y2="107.08" stroke="#f2e416" stroke-width="2.0" stroke-linecap="round"/>
<line x1="324.37" y1="114.35" x2="329.10" y2="115.19" stroke="#f2e416" stroke-width="2.0" stroke-linecap="round"/>
<circle cx="316.69" cy="113" r="6.7" fill="#f2e416" stroke="#f0a818" stroke-width="1"/>
<rect x="298.09" y="116" width="37" height="2.3" fill="#4f7fc2"/>
<rect x="305.29" y="118.4" width="3" height="1.2" fill="#e8d850"/>
<rect x="314.29" y="118.4" width="6" height="1.2" fill="#e8d850"/>
<rect x="299.99" y="120.1" width="33.1" height="1.9" fill="#4f7fc2"/>
<rect x="301.29" y="122.4" width="32" height="1.4" fill="#c8ccb8"/>
<rect x="301.49" y="124" width="31.2" height="2.8" rx="1" fill="#4f7fc2"/>
<line x1="359.88" y1="111.64" x2="364.41" y2="110.84" stroke="#f0a818" stroke-width="2.9" stroke-linecap="round"/>
<line x1="356.80" y1="106.31" x2="359.75" y2="102.78" stroke="#f0a818" stroke-width="2.9" stroke-linecap="round"/>
<line x1="350.23" y1="104.23" x2="349.83" y2="99.65" stroke="#f0a818" stroke-width="2.9" stroke-linecap="round"/>
<line x1="344.65" y1="106.84" x2="341.40" y2="103.58" stroke="#f0a818" stroke-width="2.9" stroke-linecap="round"/>
<line x1="342.05" y1="112.42" x2="337.46" y2="112.01" stroke="#f0a818" stroke-width="2.9" stroke-linecap="round"/>
<line x1="343.64" y1="118.36" x2="339.87" y2="121.00" stroke="#f0a818" stroke-width="2.9" stroke-linecap="round"/>
<line x1="348.68" y1="121.89" x2="347.49" y2="126.34" stroke="#f0a818" stroke-width="2.9" stroke-linecap="round"/>
<line x1="355.51" y1="120.99" x2="357.81" y2="124.98" stroke="#f0a818" stroke-width="2.9" stroke-linecap="round"/>
<line x1="359.47" y1="116.28" x2="363.79" y2="117.85" stroke="#f0a818" stroke-width="2.9" stroke-linecap="round"/>
<line x1="359.88" y1="111.64" x2="364.41" y2="110.84" stroke="#f2e416" stroke-width="2.0" stroke-linecap="round"/>
<line x1="356.80" y1="106.31" x2="359.75" y2="102.78" stroke="#f2e416" stroke-width="2.0" stroke-linecap="round"/>
<line x1="350.23" y1="104.23" x2="349.83" y2="99.65" stroke="#f2e416" stroke-width="2.0" stroke-linecap="round"/>
<line x1="344.65" y1="106.84" x2="341.40" y2="103.58" stroke="#f2e416" stroke-width="2.0" stroke-linecap="round"/>
<line x1="342.05" y1="112.42" x2="337.46" y2="112.01" stroke="#f2e416" stroke-width="2.0" stroke-linecap="round"/>
<line x1="343.64" y1="118.36" x2="339.87" y2="121.00" stroke="#f2e416" stroke-width="2.0" stroke-linecap="round"/>
<line x1="348.68" y1="121.89" x2="347.49" y2="126.34" stroke="#f2e416" stroke-width="2.0" stroke-linecap="round"/>
<line x1="355.51" y1="120.99" x2="357.81" y2="124.98" stroke="#f2e416" stroke-width="2.0" stroke-linecap="round"/>
<line x1="359.47" y1="116.28" x2="363.79" y2="117.85" stroke="#f2e416" stroke-width="2.0" stroke-linecap="round"/>
<circle cx="351.01" cy="113.2" r="6.9" fill="#f2e416" stroke="#f0a818" stroke-width="1"/>
<path d="M390.04,100.8 C370.70,104.80 370.70,122.40 390.04,126.4 C383.10,120.40 383.10,106.80 390.04,100.8Z" fill="#fbfbfb" stroke="#111" stroke-width="1.9" stroke-linejoin="round"/>
<circle cx="385.54" cy="122.00" r="3.6" fill="#cfcfcf" stroke="#2e5583" stroke-width="1.5"/>
<circle cx="390.54" cy="119.00" r="4.2" fill="#cfcfcf" stroke="#2e5583" stroke-width="1.5"/>
<circle cx="395.04" cy="122.00" r="3.6" fill="#cfcfcf" stroke="#2e5583" stroke-width="1.5"/>
<circle cx="385.54" cy="122.00" r="2.85" fill="#cfcfcf"/>
<circle cx="390.54" cy="119.00" r="3.45" fill="#cfcfcf"/>
<circle cx="395.04" cy="122.00" r="2.85" fill="#cfcfcf"/>
<rect x="385.04" y="121.50" width="10" height="3.5" fill="#cfcfcf"/>
<path d="M425.26,100.8 C406.86,104.80 406.86,122.40 425.26,126.4 C418.46,120.40 418.46,106.80 425.26,100.8Z" fill="#fbfbfb"/>
<path d="M425.26,100.8 C406.86,104.80 406.86,122.40 425.26,126.4 C418.46,120.40 418.46,106.80 425.26,100.8Z" fill="none" stroke="#111" stroke-width="1.9" stroke-linejoin="round"/>
<rect x="403.16" y="114.7" width="35.5" height="2" fill="#3c5d8c"/>
<rect x="403.66" y="118.1" width="34.7" height="2" fill="#3c5d8c"/>
<rect x="405.56" y="122.2" width="31.6" height="2.8" fill="#2f5180"/>
<line x1="447.13" y1="111.51" x2="442.42" y2="110.60" stroke="#f0a818" stroke-width="2.9" stroke-linecap="round"/>
<line x1="450.09" y1="106.77" x2="447.20" y2="102.94" stroke="#f0a818" stroke-width="2.9" stroke-linecap="round"/>
<line x1="456.81" y1="105.47" x2="458.05" y2="100.83" stroke="#f0a818" stroke-width="2.9" stroke-linecap="round"/>
<line x1="461.67" y1="109.34" x2="465.91" y2="107.08" stroke="#f0a818" stroke-width="2.9" stroke-linecap="round"/>
<line x1="462.47" y1="114.35" x2="467.20" y2="115.19" stroke="#f0a818" stroke-width="2.9" stroke-linecap="round"/>
<line x1="447.13" y1="111.51" x2="442.42" y2="110.60" stroke="#f2e416" stroke-width="2.0" stroke-linecap="round"/>
<line x1="450.09" y1="106.77" x2="447.20" y2="102.94" stroke="#f2e416" stroke-width="2.0" stroke-linecap="round"/>
<line x1="456.81" y1="105.47" x2="458.05" y2="100.83" stroke="#f2e416" stroke-width="2.0" stroke-linecap="round"/>
<line x1="461.67" y1="109.34" x2="465.91" y2="107.08" stroke="#f2e416" stroke-width="2.0" stroke-linecap="round"/>
<line x1="462.47" y1="114.35" x2="467.20" y2="115.19" stroke="#f2e416" stroke-width="2.0" stroke-linecap="round"/>
<circle cx="454.79" cy="113" r="6.7" fill="#f2e416" stroke="#f0a818" stroke-width="1"/>
<rect x="436.19" y="116" width="37" height="2.3" fill="#4f7fc2"/>
<rect x="443.39" y="118.4" width="3" height="1.2" fill="#e8d850"/>
<rect x="452.39" y="118.4" width="6" height="1.2" fill="#e8d850"/>
<rect x="438.09" y="120.1" width="33.1" height="1.9" fill="#4f7fc2"/>
<rect x="439.39" y="122.4" width="32" height="1.4" fill="#c8ccb8"/>
<rect x="439.59" y="124" width="31.2" height="2.8" rx="1" fill="#4f7fc2"/>
<line x1="497.98" y1="111.64" x2="502.51" y2="110.84" stroke="#f0a818" stroke-width="2.9" stroke-linecap="round"/>
<line x1="494.90" y1="106.31" x2="497.85" y2="102.78" stroke="#f0a818" stroke-width="2.9" stroke-linecap="round"/>
<line x1="488.33" y1="104.23" x2="487.93" y2="99.65" stroke="#f0a818" stroke-width="2.9" stroke-linecap="round"/>
<line x1="482.75" y1="106.84" x2="479.50" y2="103.58" stroke="#f0a818" stroke-width="2.9" stroke-linecap="round"/>
<line x1="480.15" y1="112.42" x2="475.56" y2="112.01" stroke="#f0a818" stroke-width="2.9" stroke-linecap="round"/>
<line x1="481.74" y1="118.36" x2="477.97" y2="121.00" stroke="#f0a818" stroke-width="2.9" stroke-linecap="round"/>
<line x1="486.78" y1="121.89" x2="485.59" y2="126.34" stroke="#f0a818" stroke-width="2.9" stroke-linecap="round"/>
<line x1="493.61" y1="120.99" x2="495.91" y2="124.98" stroke="#f0a818" stroke-width="2.9" stroke-linecap="round"/>
<line x1="497.57" y1="116.28" x2="501.89" y2="117.85" stroke="#f0a818" stroke-width="2.9" stroke-linecap="round"/>
<line x1="497.98" y1="111.64" x2="502.51" y2="110.84" stroke="#f2e416" stroke-width="2.0" stroke-linecap="round"/>
<line x1="494.90" y1="106.31" x2="497.85" y2="102.78" stroke="#f2e416" stroke-width="2.0" stroke-linecap="round"/>
<line x1="488.33" y1="104.23" x2="487.93" y2="99.65" stroke="#f2e416" stroke-width="2.0" stroke-linecap="round"/>
<line x1="482.75" y1="106.84" x2="479.50" y2="103.58" stroke="#f2e416" stroke-width="2.0" stroke-linecap="round"/>
<line x1="480.15" y1="112.42" x2="475.56" y2="112.01" stroke="#f2e416" stroke-width="2.0" stroke-linecap="round"/>
<line x1="481.74" y1="118.36" x2="477.97" y2="121.00" stroke="#f2e416" stroke-width="2.0" stroke-linecap="round"/>
<line x1="486.78" y1="121.89" x2="485.59" y2="126.34" stroke="#f2e416" stroke-width="2.0" stroke-linecap="round"/>
<line x1="493.61" y1="120.99" x2="495.91" y2="124.98" stroke="#f2e416" stroke-width="2.0" stroke-linecap="round"/>
<line x1="497.57" y1="116.28" x2="501.89" y2="117.85" stroke="#f2e416" stroke-width="2.0" stroke-linecap="round"/>
<circle cx="489.11" cy="113.2" r="6.9" fill="#f2e416" stroke="#f0a818" stroke-width="1"/>
<path d="M528.14,100.8 C508.80,104.80 508.80,122.40 528.14,126.4 C521.20,120.40 521.20,106.80 528.14,100.8Z" fill="#fbfbfb" stroke="#111" stroke-width="1.9" stroke-linejoin="round"/>
<circle cx="523.64" cy="122.00" r="3.6" fill="#cfcfcf" stroke="#2e5583" stroke-width="1.5"/>
<circle cx="528.64" cy="119.00" r="4.2" fill="#cfcfcf" stroke="#2e5583" stroke-width="1.5"/>
<circle cx="533.14" cy="122.00" r="3.6" fill="#cfcfcf" stroke="#2e5583" stroke-width="1.5"/>
<circle cx="523.64" cy="122.00" r="2.85" fill="#cfcfcf"/>
<circle cx="528.64" cy="119.00" r="3.45" fill="#cfcfcf"/>
<circle cx="533.14" cy="122.00" r="2.85" fill="#cfcfcf"/>
<rect x="523.14" y="121.50" width="10" height="3.5" fill="#cfcfcf"/>
<path d="M563.36,100.8 C544.96,104.80 544.96,122.40 563.36,126.4 C556.56,120.40 556.56,106.80 563.36,100.8Z" fill="#fbfbfb"/>
<path d="M563.36,100.8 C544.96,104.80 544.96,122.40 563.36,126.4 C556.56,120.40 556.56,106.80 563.36,100.8Z" fill="none" stroke="#111" stroke-width="1.9" stroke-linejoin="round"/>
<rect x="541.26" y="114.7" width="35.5" height="2" fill="#3c5d8c"/>
<rect x="541.76" y="118.1" width="34.7" height="2" fill="#3c5d8c"/>
<rect x="543.66" y="122.2" width="31.6" height="2.8" fill="#2f5180"/>
<line x1="585.23" y1="111.51" x2="580.52" y2="110.60" stroke="#f0a818" stroke-width="2.9" stroke-linecap="round"/>
<line x1="588.19" y1="106.77" x2="585.30" y2="102.94" stroke="#f0a818" stroke-width="2.9" stroke-linecap="round"/>
<line x1="594.91" y1="105.47" x2="596.15" y2="100.83" stroke="#f0a818" stroke-width="2.9" stroke-linecap="round"/>
<line x1="599.77" y1="109.34" x2="604.01" y2="107.08" stroke="#f0a818" stroke-width="2.9" stroke-linecap="round"/>
<line x1="600.57" y1="114.35" x2="605.30" y2="115.19" stroke="#f0a818" stroke-width="2.9" stroke-linecap="round"/>
<line x1="585.23" y1="111.51" x2="580.52" y2="110.60" stroke="#f2e416" stroke-width="2.0" stroke-linecap="round"/>
<line x1="588.19" y1="106.77" x2="585.30" y2="102.94" stroke="#f2e416" stroke-width="2.0" stroke-linecap="round"/>
<line x1="594.91" y1="105.47" x2="596.15" y2="100.83" stroke="#f2e416" stroke-width="2.0" stroke-linecap="round"/>
<line x1="599.77" y1="109.34" x2="604.01" y2="107.08" stroke="#f2e416" stroke-width="2.0" stroke-linecap="round"/>
<line x1="600.57" y1="114.35" x2="605.30" y2="115.19" stroke="#f2e416" stroke-width="2.0" stroke-linecap="round"/>
<circle cx="592.89" cy="113" r="6.7" fill="#f2e416" stroke="#f0a818" stroke-width="1"/>
<rect x="574.29" y="116" width="37" height="2.3" fill="#4f7fc2"/>
<rect x="581.49" y="118.4" width="3" height="1.2" fill="#e8d850"/>
<rect x="590.49" y="118.4" width="6" height="1.2" fill="#e8d850"/>
<rect x="576.19" y="120.1" width="33.1" height="1.9" fill="#4f7fc2"/>
<rect x="577.49" y="122.4" width="32" height="1.4" fill="#c8ccb8"/>
<rect x="577.69" y="124" width="31.2" height="2.8" rx="1" fill="#4f7fc2"/>
<line x1="619.76" y1="111.51" x2="615.04" y2="110.60" stroke="#f0a818" stroke-width="2.9" stroke-linecap="round"/>
<line x1="622.72" y1="106.77" x2="619.83" y2="102.94" stroke="#f0a818" stroke-width="2.9" stroke-linecap="round"/>
<line x1="629.43" y1="105.47" x2="630.67" y2="100.83" stroke="#f0a818" stroke-width="2.9" stroke-linecap="round"/>
<line x1="634.30" y1="109.34" x2="638.54" y2="107.08" stroke="#f0a818" stroke-width="2.9" stroke-linecap="round"/>
<line x1="635.09" y1="114.35" x2="639.82" y2="115.19" stroke="#f0a818" stroke-width="2.9" stroke-linecap="round"/>
<line x1="619.76" y1="111.51" x2="615.04" y2="110.60" stroke="#f2e416" stroke-width="2.0" stroke-linecap="round"/>
<line x1="622.72" y1="106.77" x2="619.83" y2="102.94" stroke="#f2e416" stroke-width="2.0" stroke-linecap="round"/>
<line x1="629.43" y1="105.47" x2="630.67" y2="100.83" stroke="#f2e416" stroke-width="2.0" stroke-linecap="round"/>
<line x1="634.30" y1="109.34" x2="638.54" y2="107.08" stroke="#f2e416" stroke-width="2.0" stroke-linecap="round"/>
<line x1="635.09" y1="114.35" x2="639.82" y2="115.19" stroke="#f2e416" stroke-width="2.0" stroke-linecap="round"/>
<circle cx="627.41" cy="113" r="6.7" fill="#f2e416" stroke="#f0a818" stroke-width="1"/>
<rect x="608.81" y="116" width="37" height="2.3" fill="#4f7fc2"/>
<rect x="616.01" y="118.4" width="3" height="1.2" fill="#e8d850"/>
<rect x="625.01" y="118.4" width="6" height="1.2" fill="#e8d850"/>
<rect x="610.71" y="120.1" width="33.1" height="1.9" fill="#4f7fc2"/>
<rect x="612.01" y="122.4" width="32" height="1.4" fill="#c8ccb8"/>
<rect x="612.21" y="124" width="31.2" height="2.8" rx="1" fill="#4f7fc2"/>
<path d="M666.94,100.8 C648.54,104.80 648.54,122.40 666.94,126.4 C660.14,120.40 660.14,106.80 666.94,100.8Z" fill="#fbfbfb"/>
<path d="M666.94,100.8 C648.54,104.80 648.54,122.40 666.94,126.4 C660.14,120.40 660.14,106.80 666.94,100.8Z" fill="none" stroke="#111" stroke-width="1.9" stroke-linejoin="round"/>
<rect x="644.84" y="114.7" width="35.5" height="2" fill="#3c5d8c"/>
<rect x="645.34" y="118.1" width="34.7" height="2" fill="#3c5d8c"/>
<rect x="647.24" y="122.2" width="31.6" height="2.8" fill="#2f5180"/>
<path d="M701.46,100.8 C683.06,104.80 683.06,122.40 701.46,126.4 C694.66,120.40 694.66,106.80 701.46,100.8Z" fill="#fbfbfb"/>
<path d="M701.46,100.8 C683.06,104.80 683.06,122.40 701.46,126.4 C694.66,120.40 694.66,106.80 701.46,100.8Z" fill="none" stroke="#111" stroke-width="1.9" stroke-linejoin="round"/>
<rect x="679.36" y="114.7" width="35.5" height="2" fill="#3c5d8c"/>
<rect x="679.86" y="118.1" width="34.7" height="2" fill="#3c5d8c"/>
<rect x="681.76" y="122.2" width="31.6" height="2.8" fill="#2f5180"/>
<line x1="723.33" y1="111.51" x2="718.62" y2="110.60" stroke="#f0a818" stroke-width="2.9" stroke-linecap="round"/>
<line x1="726.29" y1="106.77" x2="723.40" y2="102.94" stroke="#f0a818" stroke-width="2.9" stroke-linecap="round"/>
<line x1="733.01" y1="105.47" x2="734.25" y2="100.83" stroke="#f0a818" stroke-width="2.9" stroke-linecap="round"/>
<line x1="737.87" y1="109.34" x2="742.11" y2="107.08" stroke="#f0a818" stroke-width="2.9" stroke-linecap="round"/>
<line x1="738.67" y1="114.35" x2="743.40" y2="115.19" stroke="#f0a818" stroke-width="2.9" stroke-linecap="round"/>
<line x1="723.33" y1="111.51" x2="718.62" y2="110.60" stroke="#f2e416" stroke-width="2.0" stroke-linecap="round"/>
<line x1="726.29" y1="106.77" x2="723.40" y2="102.94" stroke="#f2e416" stroke-width="2.0" stroke-linecap="round"/>
<line x1="733.01" y1="105.47" x2="734.25" y2="100.83" stroke="#f2e416" stroke-width="2.0" stroke-linecap="round"/>
<line x1="737.87" y1="109.34" x2="742.11" y2="107.08" stroke="#f2e416" stroke-width="2.0" stroke-linecap="round"/>
<line x1="738.67" y1="114.35" x2="743.40" y2="115.19" stroke="#f2e416" stroke-width="2.0" stroke-linecap="round"/>
<circle cx="730.99" cy="113" r="6.7" fill="#f2e416" stroke="#f0a818" stroke-width="1"/>
<rect x="712.39" y="116" width="37" height="2.3" fill="#4f7fc2"/>
<rect x="719.59" y="118.4" width="3" height="1.2" fill="#e8d850"/>
<rect x="728.59" y="118.4" width="6" height="1.2" fill="#e8d850"/>
<rect x="714.29" y="120.1" width="33.1" height="1.9" fill="#4f7fc2"/>
<rect x="715.59" y="122.4" width="32" height="1.4" fill="#c8ccb8"/>
<rect x="715.79" y="124" width="31.2" height="2.8" rx="1" fill="#4f7fc2"/>
<line x1="757.86" y1="111.51" x2="753.14" y2="110.60" stroke="#f0a818" stroke-width="2.9" stroke-linecap="round"/>
<line x1="760.82" y1="106.77" x2="757.93" y2="102.94" stroke="#f0a818" stroke-width="2.9" stroke-linecap="round"/>
<line x1="767.53" y1="105.47" x2="768.77" y2="100.83" stroke="#f0a818" stroke-width="2.9" stroke-linecap="round"/>
<line x1="772.40" y1="109.34" x2="776.64" y2="107.08" stroke="#f0a818" stroke-width="2.9" stroke-linecap="round"/>
<line x1="773.19" y1="114.35" x2="777.92" y2="115.19" stroke="#f0a818" stroke-width="2.9" stroke-linecap="round"/>
<line x1="757.86" y1="111.51" x2="753.14" y2="110.60" stroke="#f2e416" stroke-width="2.0" stroke-linecap="round"/>
<line x1="760.82" y1="106.77" x2="757.93" y2="102.94" stroke="#f2e416" stroke-width="2.0" stroke-linecap="round"/>
<line x1="767.53" y1="105.47" x2="768.77" y2="100.83" stroke="#f2e416" stroke-width="2.0" stroke-linecap="round"/>
<line x1="772.40" y1="109.34" x2="776.64" y2="107.08" stroke="#f2e416" stroke-width="2.0" stroke-linecap="round"/>
<line x1="773.19" y1="114.35" x2="777.92" y2="115.19" stroke="#f2e416" stroke-width="2.0" stroke-linecap="round"/>
<circle cx="765.51" cy="113" r="6.7" fill="#f2e416" stroke="#f0a818" stroke-width="1"/>
<rect x="746.91" y="116" width="37" height="2.3" fill="#4f7fc2"/>
<rect x="754.11" y="118.4" width="3" height="1.2" fill="#e8d850"/>
<rect x="763.11" y="118.4" width="6" height="1.2" fill="#e8d850"/>
<rect x="748.81" y="120.1" width="33.1" height="1.9" fill="#4f7fc2"/>
<rect x="750.11" y="122.4" width="32" height="1.4" fill="#c8ccb8"/>
<rect x="750.31" y="124" width="31.2" height="2.8" rx="1" fill="#4f7fc2"/>
<path d="M805.04,100.8 C786.64,104.80 786.64,122.40 805.04,126.4 C798.24,120.40 798.24,106.80 805.04,100.8Z" fill="#fbfbfb"/>
<path d="M805.04,100.8 C786.64,104.80 786.64,122.40 805.04,126.4 C798.24,120.40 798.24,106.80 805.04,100.8Z" fill="none" stroke="#111" stroke-width="1.9" stroke-linejoin="round"/>
<rect x="782.94" y="114.7" width="35.5" height="2" fill="#3c5d8c"/>
<rect x="783.44" y="118.1" width="34.7" height="2" fill="#3c5d8c"/>
<rect x="785.34" y="122.2" width="31.6" height="2.8" fill="#2f5180"/>
<path d="M839.56,100.8 C821.16,104.80 821.16,122.40 839.56,126.4 C832.76,120.40 832.76,106.80 839.56,100.8Z" fill="#fbfbfb"/>
<path d="M839.56,100.8 C821.16,104.80 821.16,122.40 839.56,126.4 C832.76,120.40 832.76,106.80 839.56,100.8Z" fill="none" stroke="#111" stroke-width="1.9" stroke-linejoin="round"/>
<rect x="817.46" y="114.7" width="35.5" height="2" fill="#3c5d8c"/>
<rect x="817.96" y="118.1" width="34.7" height="2" fill="#3c5d8c"/>
<rect x="819.86" y="122.2" width="31.6" height="2.8" fill="#2f5180"/>
<line x1="861.43" y1="111.51" x2="856.72" y2="110.60" stroke="#f0a818" stroke-width="2.9" stroke-linecap="round"/>
<line x1="864.39" y1="106.77" x2="861.50" y2="102.94" stroke="#f0a818" stroke-width="2.9" stroke-linecap="round"/>
<line x1="871.11" y1="105.47" x2="872.35" y2="100.83" stroke="#f0a818" stroke-width="2.9" stroke-linecap="round"/>
<line x1="875.97" y1="109.34" x2="880.21" y2="107.08" stroke="#f0a818" stroke-width="2.9" stroke-linecap="round"/>
<line x1="876.77" y1="114.35" x2="881.50" y2="115.19" stroke="#f0a818" stroke-width="2.9" stroke-linecap="round"/>
<line x1="861.43" y1="111.51" x2="856.72" y2="110.60" stroke="#f2e416" stroke-width="2.0" stroke-linecap="round"/>
<line x1="864.39" y1="106.77" x2="861.50" y2="102.94" stroke="#f2e416" stroke-width="2.0" stroke-linecap="round"/>
<line x1="871.11" y1="105.47" x2="872.35" y2="100.83" stroke="#f2e416" stroke-width="2.0" stroke-linecap="round"/>
<line x1="875.97" y1="109.34" x2="880.21" y2="107.08" stroke="#f2e416" stroke-width="2.0" stroke-linecap="round"/>
<line x1="876.77" y1="114.35" x2="881.50" y2="115.19" stroke="#f2e416" stroke-width="2.0" stroke-linecap="round"/>
<circle cx="869.09" cy="113" r="6.7" fill="#f2e416" stroke="#f0a818" stroke-width="1"/>
<rect x="850.49" y="116" width="37" height="2.3" fill="#4f7fc2"/>
<rect x="857.69" y="118.4" width="3" height="1.2" fill="#e8d850"/>
<rect x="866.69" y="118.4" width="6" height="1.2" fill="#e8d850"/>
<rect x="852.39" y="120.1" width="33.1" height="1.9" fill="#4f7fc2"/>
<rect x="853.69" y="122.4" width="32" height="1.4" fill="#c8ccb8"/>
<rect x="853.89" y="124" width="31.2" height="2.8" rx="1" fill="#4f7fc2"/>
<circle cx="892.91" cy="117.90" r="5.75" fill="#2f66c8" stroke="#2f66c8" stroke-width="3.4"/><circle cx="903.71" cy="110.20" r="5.75" fill="#2f66c8" stroke="#2f66c8" stroke-width="3.4"/><circle cx="914.61" cy="114.60" r="6.40" fill="#2f66c8" stroke="#2f66c8" stroke-width="3.4"/><rect x="892.91" y="111" width="21.70" height="10.00" fill="#2f66c8" stroke="#2f66c8" stroke-width="3.4"/><circle cx="892.91" cy="117.90" r="5.75" fill="#d3d3d3" /><circle cx="903.71" cy="110.20" r="5.75" fill="#d3d3d3" /><circle cx="914.61" cy="114.60" r="6.40" fill="#d3d3d3" /><rect x="892.91" y="111" width="21.70" height="10.00" fill="#d3d3d3" /><circle cx="901.01" cy="119.90" r="4.60" fill="#2f66c8" stroke="#2f66c8" stroke-width="3.4"/><circle cx="907.81" cy="115.80" r="5.30" fill="#2f66c8" stroke="#2f66c8" stroke-width="3.4"/><circle cx="913.41" cy="120.40" r="4.50" fill="#2f66c8" stroke="#2f66c8" stroke-width="3.4"/><rect x="901.01" y="116" width="12.40" height="8.90" fill="#2f66c8" stroke="#2f66c8" stroke-width="3.4"/><circle cx="901.01" cy="119.90" r="4.60" fill="#fdfdfd" /><circle cx="907.81" cy="115.80" r="5.30" fill="#fdfdfd" /><circle cx="913.41" cy="120.40" r="4.50" fill="#fdfdfd" /><rect x="901.01" y="116" width="12.40" height="8.90" fill="#fdfdfd" /><path d="M906.21,120.5 Q908.21,117.5 911.21,118.5" fill="none" stroke="#2f66c8" stroke-width="1.4"/>
<circle cx="927.44" cy="117.90" r="5.75" fill="#2c4a72" stroke="#2c4a72" stroke-width="3.4"/><circle cx="938.24" cy="110.20" r="5.75" fill="#2c4a72" stroke="#2c4a72" stroke-width="3.4"/><circle cx="949.14" cy="114.60" r="6.40" fill="#2c4a72" stroke="#2c4a72" stroke-width="3.4"/><rect x="927.44" y="111" width="21.70" height="10.00" fill="#2c4a72" stroke="#2c4a72" stroke-width="3.4"/><circle cx="927.44" cy="117.90" r="5.75" fill="#d3d3d3" /><circle cx="938.24" cy="110.20" r="5.75" fill="#d3d3d3" /><circle cx="949.14" cy="114.60" r="6.40" fill="#d3d3d3" /><rect x="927.44" y="111" width="21.70" height="10.00" fill="#d3d3d3" /><circle cx="935.54" cy="119.90" r="4.60" fill="#2c4a72" stroke="#2c4a72" stroke-width="3.4"/><circle cx="942.34" cy="115.80" r="5.30" fill="#2c4a72" stroke="#2c4a72" stroke-width="3.4"/><circle cx="947.94" cy="120.40" r="4.50" fill="#2c4a72" stroke="#2c4a72" stroke-width="3.4"/><rect x="935.54" y="116" width="12.40" height="8.90" fill="#2c4a72" stroke="#2c4a72" stroke-width="3.4"/><circle cx="935.54" cy="119.90" r="4.60" fill="#fdfdfd" /><circle cx="942.34" cy="115.80" r="5.30" fill="#fdfdfd" /><circle cx="947.94" cy="120.40" r="4.50" fill="#fdfdfd" /><rect x="935.54" y="116" width="12.40" height="8.90" fill="#fdfdfd" /><path d="M940.74,120.5 Q942.74,117.5 945.74,118.5" fill="none" stroke="#2c4a72" stroke-width="1.4"/>
<circle cx="961.96" cy="117.90" r="5.75" fill="#2c4a72" stroke="#2c4a72" stroke-width="3.4"/><circle cx="972.76" cy="110.20" r="5.75" fill="#2c4a72" stroke="#2c4a72" stroke-width="3.4"/><circle cx="983.66" cy="114.60" r="6.40" fill="#2c4a72" stroke="#2c4a72" stroke-width="3.4"/><rect x="961.96" y="111" width="21.70" height="10.00" fill="#2c4a72" stroke="#2c4a72" stroke-width="3.4"/><circle cx="961.96" cy="117.90" r="5.75" fill="#d3d3d3" /><circle cx="972.76" cy="110.20" r="5.75" fill="#d3d3d3" /><circle cx="983.66" cy="114.60" r="6.40" fill="#d3d3d3" /><rect x="961.96" y="111" width="21.70" height="10.00" fill="#d3d3d3" /><circle cx="970.06" cy="119.90" r="4.60" fill="#2c4a72" stroke="#2c4a72" stroke-width="3.4"/><circle cx="976.86" cy="115.80" r="5.30" fill="#2c4a72" stroke="#2c4a72" stroke-width="3.4"/><circle cx="982.46" cy="120.40" r="4.50" fill="#2c4a72" stroke="#2c4a72" stroke-width="3.4"/><rect x="970.06" y="116" width="12.40" height="8.90" fill="#2c4a72" stroke="#2c4a72" stroke-width="3.4"/><circle cx="970.06" cy="119.90" r="4.60" fill="#fdfdfd" /><circle cx="976.86" cy="115.80" r="5.30" fill="#fdfdfd" /><circle cx="982.46" cy="120.40" r="4.50" fill="#fdfdfd" /><rect x="970.06" y="116" width="12.40" height="8.90" fill="#fdfdfd" /><path d="M975.26,120.5 Q977.26,117.5 980.26,118.5" fill="none" stroke="#2c4a72" stroke-width="1.4"/>
<circle cx="996.49" cy="117.90" r="5.75" fill="#2f66c8" stroke="#2f66c8" stroke-width="3.4"/><circle cx="1007.29" cy="110.20" r="5.75" fill="#2f66c8" stroke="#2f66c8" stroke-width="3.4"/><circle cx="1018.19" cy="114.60" r="6.40" fill="#2f66c8" stroke="#2f66c8" stroke-width="3.4"/><rect x="996.49" y="111" width="21.70" height="10.00" fill="#2f66c8" stroke="#2f66c8" stroke-width="3.4"/><circle cx="996.49" cy="117.90" r="5.75" fill="#d3d3d3" /><circle cx="1007.29" cy="110.20" r="5.75" fill="#d3d3d3" /><circle cx="1018.19" cy="114.60" r="6.40" fill="#d3d3d3" /><rect x="996.49" y="111" width="21.70" height="10.00" fill="#d3d3d3" /><circle cx="1004.59" cy="119.90" r="4.60" fill="#2f66c8" stroke="#2f66c8" stroke-width="3.4"/><circle cx="1011.39" cy="115.80" r="5.30" fill="#2f66c8" stroke="#2f66c8" stroke-width="3.4"/><circle cx="1016.99" cy="120.40" r="4.50" fill="#2f66c8" stroke="#2f66c8" stroke-width="3.4"/><rect x="1004.59" y="116" width="12.40" height="8.90" fill="#2f66c8" stroke="#2f66c8" stroke-width="3.4"/><circle cx="1004.59" cy="119.90" r="4.60" fill="#fdfdfd" /><circle cx="1011.39" cy="115.80" r="5.30" fill="#fdfdfd" /><circle cx="1016.99" cy="120.40" r="4.50" fill="#fdfdfd" /><rect x="1004.59" y="116" width="12.40" height="8.90" fill="#fdfdfd" /><path d="M1009.79,120.5 Q1011.79,117.5 1014.79,118.5" fill="none" stroke="#2f66c8" stroke-width="1.4"/>
<circle cx="1031.01" cy="117.90" r="5.75" fill="#2f66c8" stroke="#2f66c8" stroke-width="3.4"/><circle cx="1041.81" cy="110.20" r="5.75" fill="#2f66c8" stroke="#2f66c8" stroke-width="3.4"/><circle cx="1052.71" cy="114.60" r="6.40" fill="#2f66c8" stroke="#2f66c8" stroke-width="3.4"/><rect x="1031.01" y="111" width="21.70" height="10.00" fill="#2f66c8" stroke="#2f66c8" stroke-width="3.4"/><circle cx="1031.01" cy="117.90" r="5.75" fill="#d3d3d3" /><circle cx="1041.81" cy="110.20" r="5.75" fill="#d3d3d3" /><circle cx="1052.71" cy="114.60" r="6.40" fill="#d3d3d3" /><rect x="1031.01" y="111" width="21.70" height="10.00" fill="#d3d3d3" /><circle cx="1039.11" cy="119.90" r="4.60" fill="#2f66c8" stroke="#2f66c8" stroke-width="3.4"/><circle cx="1045.91" cy="115.80" r="5.30" fill="#2f66c8" stroke="#2f66c8" stroke-width="3.4"/><circle cx="1051.51" cy="120.40" r="4.50" fill="#2f66c8" stroke="#2f66c8" stroke-width="3.4"/><rect x="1039.11" y="116" width="12.40" height="8.90" fill="#2f66c8" stroke="#2f66c8" stroke-width="3.4"/><circle cx="1039.11" cy="119.90" r="4.60" fill="#fdfdfd" /><circle cx="1045.91" cy="115.80" r="5.30" fill="#fdfdfd" /><circle cx="1051.51" cy="120.40" r="4.50" fill="#fdfdfd" /><rect x="1039.11" y="116" width="12.40" height="8.90" fill="#fdfdfd" /><path d="M1044.31,120.5 Q1046.31,117.5 1049.31,118.5" fill="none" stroke="#2f66c8" stroke-width="1.4"/>
<circle cx="1065.54" cy="117.90" r="5.75" fill="#2c4a72" stroke="#2c4a72" stroke-width="3.4"/><circle cx="1076.34" cy="110.20" r="5.75" fill="#2c4a72" stroke="#2c4a72" stroke-width="3.4"/><circle cx="1087.24" cy="114.60" r="6.40" fill="#2c4a72" stroke="#2c4a72" stroke-width="3.4"/><rect x="1065.54" y="111" width="21.70" height="10.00" fill="#2c4a72" stroke="#2c4a72" stroke-width="3.4"/><circle cx="1065.54" cy="117.90" r="5.75" fill="#d3d3d3" /><circle cx="1076.34" cy="110.20" r="5.75" fill="#d3d3d3" /><circle cx="1087.24" cy="114.60" r="6.40" fill="#d3d3d3" /><rect x="1065.54" y="111" width="21.70" height="10.00" fill="#d3d3d3" /><circle cx="1073.64" cy="119.90" r="4.60" fill="#2c4a72" stroke="#2c4a72" stroke-width="3.4"/><circle cx="1080.44" cy="115.80" r="5.30" fill="#2c4a72" stroke="#2c4a72" stroke-width="3.4"/><circle cx="1086.04" cy="120.40" r="4.50" fill="#2c4a72" stroke="#2c4a72" stroke-width="3.4"/><rect x="1073.64" y="116" width="12.40" height="8.90" fill="#2c4a72" stroke="#2c4a72" stroke-width="3.4"/><circle cx="1073.64" cy="119.90" r="4.60" fill="#fdfdfd" /><circle cx="1080.44" cy="115.80" r="5.30" fill="#fdfdfd" /><circle cx="1086.04" cy="120.40" r="4.50" fill="#fdfdfd" /><rect x="1073.64" y="116" width="12.40" height="8.90" fill="#fdfdfd" /><path d="M1078.84,120.5 Q1080.84,117.5 1083.84,118.5" fill="none" stroke="#2c4a72" stroke-width="1.4"/>
<line x1="231" y1="97" x2="231" y2="359" stroke="#111" stroke-width="2" stroke-dasharray="5.5,3.5"/>
<path d="M127.3,309.0 L133.0,305.6 L149.8,285.2 L190.5,260.6 L212.5,242.0 L225.7,258.3 L248.8,278.6 L262.3,286.7 L281.3,292.1 L299.0,299.5 L310.8,293.5 L317.6,280.0 L327.1,254.2 L335.2,233.9 L340.1,227.1 L345.5,225.2 L352.8,230.4 L362.3,244.7 L373.2,262.3 L384.0,273.7 L393.5,280.5 L406.8,286.2 L421.7,294.3 L435.2,300.3 L443.4,297.0 L450.1,287.6 L458.3,265.9 L466.4,240.1 L473.2,221.2 L478.6,215.7 L484.0,216.3 L490.8,222.5 L509.5,252.5 L519.0,268.8 L527.1,277.5 L540.7,285.0 L554.2,291.0 L570.5,301.3 L580.0,302.7 L588.0,298.6 L594.9,291.0 L603.0,274.2 L611.1,258.0 L616.5,252.5 L621.7,252.0 L629.8,259.3 L644.7,275.6 L662.3,291.0 L674.5,296.4 L686.7,298.0 L696.2,300.8 L703.0,301.3 L711.1,300.0 L720.8,297.2 L731.7,290.5 L745.2,276.9 L754.7,269.3 L762.8,267.4 L769.6,268.8 L785.9,274.2 L799.4,279.6 L811.6,284.2 L821.1,284.5 L833.6,286.4 L847.1,289.9 L859.3,291.8 L868.8,289.1 L887.8,280.2 L901.3,277.5 L914.9,281.0 L928.4,287.8 L944.9,292.6 L967.9,295.9 L984.2,298.6 L996.4,301.3 L1008.6,298.6 L1022.1,289.1 L1034.3,282.9 L1043.8,285.0 L1062.5,294.5 L1078.8,301.3 L1093.7,306.7" fill="none" stroke="#ff0000" stroke-width="3" stroke-linejoin="round" stroke-linecap="round"/>
<text x="9.44" y="22.00" font-size="16" fill="#0000ff">(kraj lahko izberete v meniju)</text>
<text x="398.82" y="36.70" font-size="23.5" fill="#0000ff">Slavonski Brod 7 dni</text>
<text x="860.22" y="21.50" font-size="16" fill="#0000ff">Zadnja posodobitev: 08.12.2025 - 18:09</text>
<text transform="translate(146.62,69.00) scale(1.0874,1)" font-size="18.74" fill="#000">ponedeljek</text>
<text transform="translate(169.84,89.10) scale(1.0418,1)" font-size="19.29" fill="#000">08.12</text>
<text transform="translate(310.53,69.00) scale(1.1133,1)" font-size="18.74" fill="#000">torek</text>
<text transform="translate(308.79,89.10) scale(1.0418,1)" font-size="19.29" fill="#000">09.12</text>
<text transform="translate(447.91,69.00) scale(1.0227,1)" font-size="18.74" fill="#000">sreda</text>
<text transform="translate(447.19,89.10) scale(1.0436,1)" font-size="19.29" fill="#000">10.12</text>
<text transform="translate(578.84,69.00) scale(1.0759,1)" font-size="19.73" fill="#000">četrtek</text>
<text transform="translate(585.39,89.10) scale(1.0899,1)" font-size="19.03" fill="#000">11.12</text>
<text transform="translate(723.24,69.00) scale(1.1058,1)" font-size="18.74" fill="#000">petek</text>
<text transform="translate(723.39,89.10) scale(1.0577,1)" font-size="19.03" fill="#000">12.12</text>
<text transform="translate(857.10,69.00) scale(1.0478,1)" font-size="18.74" fill="#d00000">sobota</text>
<text transform="translate(861.69,89.10) scale(1.0577,1)" font-size="19.03" fill="#d00000">13.12</text>
<text transform="translate(992.80,69.00) scale(1.0608,1)" font-size="18.74" fill="#d00000">nedelja</text>
<text transform="translate(1000.44,89.10) scale(1.0577,1)" font-size="19.03" fill="#d00000">14.12</text>
<text transform="translate(113.22,179.70) scale(0.9452,1)" font-size="19.04" fill="#000">5</text>
<text transform="translate(112.49,216.70) scale(0.9959,1)" font-size="18.78" fill="#000">4</text>
<text transform="translate(113.02,254.70) scale(0.9661,1)" font-size="19.03" fill="#000">3</text>
<text transform="translate(113.02,291.70) scale(0.9665,1)" font-size="19.03" fill="#000">2</text>
<text transform="translate(113.22,328.70) scale(0.9452,1)" font-size="19.04" fill="#000">1</text>
<text transform="translate(112.65,366.20) scale(0.9722,1)" font-size="19.29" fill="#000">0</text>
<text transform="translate(46.04,179.70) scale(1.0216,1)" font-size="19.04" fill="#ff0000">15</text>
<text transform="translate(45.91,216.70) scale(1.1114,1)" font-size="19.04" fill="#ff0000">11</text>
<text transform="translate(46.83,254.70) scale(0.9929,1)" font-size="19.29" fill="#ff0000">8</text>
<text transform="translate(47.23,291.70) scale(0.9959,1)" font-size="18.78" fill="#ff0000">4</text>
<text transform="translate(46.16,328.70) scale(0.9452,1)" font-size="19.04" fill="#ff0000">1</text>
<text transform="translate(46.82,366.20) scale(1.0287,1)" font-size="19.03" fill="#ff0000">-3</text>
<text transform="translate(1097.90,179.70) scale(1.0492,1)" font-size="19.04" fill="#000">14</text>
<text transform="translate(1098.49,216.70) scale(1.0482,1)" font-size="19.29" fill="#000">9.0</text>
<text transform="translate(1098.50,254.70) scale(1.0410,1)" font-size="19.29" fill="#000">6.0</text>
<text transform="translate(1098.72,291.70) scale(1.0254,1)" font-size="19.03" fill="#000">3.5</text>
<text transform="translate(1097.92,328.70) scale(1.0345,1)" font-size="19.04" fill="#000">1.5</text>
<text transform="translate(1098.75,366.20) scale(0.9722,1)" font-size="19.29" fill="#000">0</text>
<g transform="translate(34,266.7) rotate(-90)"><text transform="translate(-83.04,0.00) scale(1.0819,1)" font-size="20.09" fill="#ff0000">Temperatura (°C)</text></g>
<g transform="translate(100.5,263.5) rotate(-90)"><text transform="translate(-82.50,0.00) scale(1.0763,1)" font-size="20.09" fill="#000">Padavine (mm/h)</text></g>
<g transform="translate(1146,255.3) rotate(-90)"><text transform="translate(-94.21,0.00) scale(1.0287,1)" font-size="21.15" fill="#000">Višina oblakov (km)</text></g>
<text transform="translate(151.04,377.00) scale(1.0330,1)" font-size="19.29" fill="#000">06</text>
<text transform="translate(185.52,377.00) scale(1.0232,1)" font-size="19.03" fill="#000">12</text>
<text transform="translate(220.02,377.00) scale(1.0276,1)" font-size="19.29" fill="#000">18</text>
<text transform="translate(252.96,377.00) scale(1.1247,1)" font-size="19.69" fill="#000">tor</text>
<text transform="translate(289.14,377.00) scale(1.0330,1)" font-size="19.29" fill="#000">06</text>
<text transform="translate(323.62,377.00) scale(1.0232,1)" font-size="19.03" fill="#000">12</text>
<text transform="translate(358.12,377.00) scale(1.0276,1)" font-size="19.29" fill="#000">18</text>
<text transform="translate(390.29,377.00) scale(1.0453,1)" font-size="18.67" fill="#000">sre</text>
<text transform="translate(427.24,377.00) scale(1.0330,1)" font-size="19.29" fill="#000">06</text>
<text transform="translate(461.72,377.00) scale(1.0232,1)" font-size="19.03" fill="#000">12</text>
<text transform="translate(496.22,377.00) scale(1.0276,1)" font-size="19.29" fill="#000">18</text>
<text transform="translate(528.04,377.00) scale(1.0398,1)" font-size="19.73" fill="#000">čet</text>
<text transform="translate(565.34,377.00) scale(1.0330,1)" font-size="19.29" fill="#000">06</text>
<text transform="translate(599.82,377.00) scale(1.0232,1)" font-size="19.03" fill="#000">12</text>
<text transform="translate(634.32,377.00) scale(1.0276,1)" font-size="19.29" fill="#000">18</text>
<text transform="translate(665.27,377.00) scale(1.0678,1)" font-size="19.69" fill="#000">pet</text>
<text transform="translate(703.44,377.00) scale(1.0330,1)" font-size="19.29" fill="#000">06</text>
<text transform="translate(737.92,377.00) scale(1.0232,1)" font-size="19.03" fill="#000">12</text>
<text transform="translate(772.42,377.00) scale(1.0276,1)" font-size="19.29" fill="#000">18</text>
<text transform="translate(802.41,377.00) scale(1.0354,1)" font-size="18.74" fill="#000">sob</text>
<text transform="translate(841.54,377.00) scale(1.0330,1)" font-size="19.29" fill="#000">06</text>
<text transform="translate(876.02,377.00) scale(1.0232,1)" font-size="19.03" fill="#000">12</text>
<text transform="translate(910.52,377.00) scale(1.0276,1)" font-size="19.29" fill="#000">18</text>
<text transform="translate(939.36,377.00) scale(1.0673,1)" font-size="18.74" fill="#000">ned</text>
<text transform="translate(979.64,377.00) scale(1.0330,1)" font-size="19.29" fill="#000">06</text>
<text transform="translate(1014.12,377.00) scale(1.0232,1)" font-size="19.03" fill="#000">12</text>
<text transform="translate(1048.62,377.00) scale(1.0276,1)" font-size="19.29" fill="#000">18</text>
<text transform="translate(121.55,332.50) scale(0.9665,1)" font-size="19.03" fill="#000">2</text>
<text transform="translate(208.23,264.00) scale(0.9929,1)" font-size="19.29" fill="#000">8</text>
<text transform="translate(294.64,320.30) scale(0.9661,1)" font-size="19.03" fill="#000">3</text>
<text transform="translate(334.10,247.70) scale(1.0276,1)" font-size="19.29" fill="#000">10</text>
<text transform="translate(432.44,321.80) scale(0.9661,1)" font-size="19.03" fill="#000">3</text>
<text transform="translate(467.28,237.70) scale(1.1114,1)" font-size="19.04" fill="#000">11</text>
<text transform="translate(571.25,324.10) scale(0.9665,1)" font-size="19.03" fill="#000">2</text>
<text transform="translate(617.85,273.10) scale(0.9658,1)" font-size="19.04" fill="#000">7</text>
<text transform="translate(697.25,322.70) scale(0.9665,1)" font-size="19.03" fill="#000">2</text>
<text transform="translate(754.62,289.40) scale(1.0282,1)" font-size="19.03" fill="#000">6</text>
<text transform="translate(848.76,313.80) scale(0.9959,1)" font-size="18.78" fill="#000">4</text>
<text transform="translate(893.65,299.70) scale(0.9452,1)" font-size="19.04" fill="#000">5</text>
<text transform="translate(985.94,322.70) scale(0.9661,1)" font-size="19.03" fill="#000">3</text>
<text transform="translate(1032.76,305.10) scale(0.9959,1)" font-size="18.78" fill="#000">4</text>
<text transform="translate(1090.35,327.20) scale(0.9665,1)" font-size="19.03" fill="#000">2</text>
<rect x="127" y="390" width="32" height="11" fill="#0050ff"/>
<rect x="165" y="386" width="105" height="20" fill="#fff"/>
<text transform="translate(168.40,401.70) scale(1.0811,1)" font-size="18.5" fill="#000">Dež</text>
<rect x="278" y="390" width="32" height="11" fill="#10d8c8"/>
<rect x="310.3" y="386" width="109.4" height="19.5" fill="#fff"/>
<text transform="translate(318.43,401.90) scale(1.0596,1)" font-size="18.5" fill="#000">Možnost ploh</text>
<text transform="translate(499.58,401.80) scale(1.0548,1)" font-size="15" fill="#0000ee">© vreme.us &amp; vreme.pro</text>
<rect x="759.5" y="386" width="180.5" height="19.7" fill="#fff"/>
<text transform="translate(759.03,401.20) scale(1.0515,1)" font-size="18.5" fill="#000">Gostota oblakov (%)</text>
<rect x="949.00" y="385.2" width="29.16" height="13.2" fill="#cccccc"/>
<rect x="978.16" y="385.2" width="29.16" height="13.2" fill="#b0b0b0"/>
<rect x="1007.32" y="385.2" width="29.16" height="13.2" fill="#919191"/>
<rect x="1036.48" y="385.2" width="29.16" height="13.2" fill="#737373"/>
<rect x="1065.64" y="385.2" width="29.16" height="13.2" fill="#585858"/>
<rect x="949.5" y="385.5" width="145" height="12.8" fill="none" stroke="#222" stroke-width="1.1"/>
<text transform="translate(940.48,414.40) scale(1.0276,1)" font-size="16.29" fill="#000">10</text>
<text transform="translate(967.84,414.40) scale(1.0294,1)" font-size="16.07" fill="#000">25</text>
<text transform="translate(997.33,414.40) scale(1.0149,1)" font-size="16.29" fill="#000">50</text>
<text transform="translate(1026.32,414.40) scale(1.0193,1)" font-size="16.08" fill="#000">75</text>
<text transform="translate(1055.09,414.40) scale(1.0431,1)" font-size="16.29" fill="#000">90</text>
<text transform="translate(1080.09,414.40) scale(1.0417,1)" font-size="16.29" fill="#000">100</text>
</svg>
</body></html>
